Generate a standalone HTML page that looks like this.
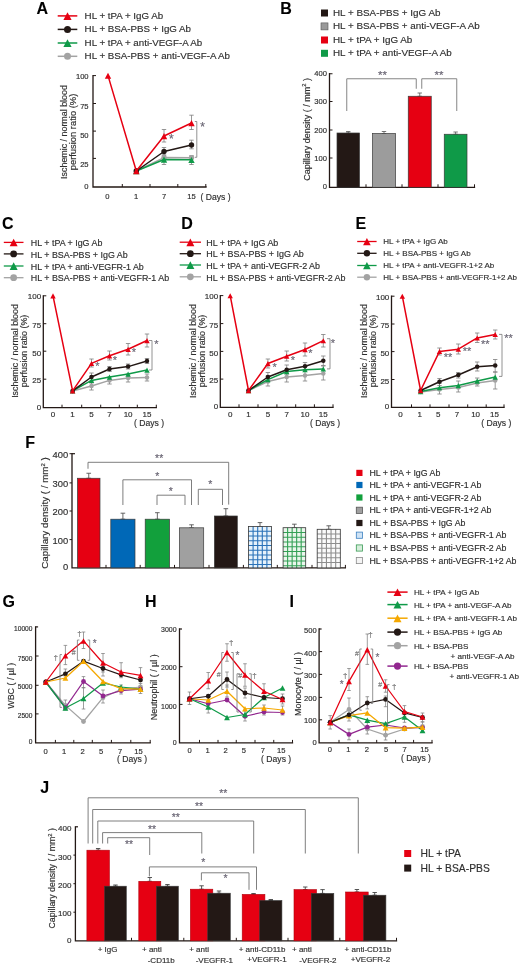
<!DOCTYPE html>
<html><head><meta charset="utf-8"><title>Figure</title>
<style>
html,body{margin:0;padding:0;background:#fff;}
body{width:520px;height:967px;overflow:hidden;}
svg{display:block;filter:blur(0.3px);font-family:"Liberation Sans", sans-serif;}
</style></head>
<body>
<svg width="520" height="967" viewBox="0 0 520 967">
<defs>
<pattern id="chkB" patternUnits="userSpaceOnUse" width="4.6" height="4.7" x="248.5" y="526.5"><rect width="4.6" height="4.7" fill="#e8f4fc"/><path d="M0 0H4.6M0 0V4.7" stroke="#1d6db5" stroke-width="1.3"/></pattern>
<pattern id="chkG" patternUnits="userSpaceOnUse" width="4.5" height="4.7" x="283.1" y="527.7"><rect width="4.5" height="4.7" fill="#eef8f0"/><path d="M0 0H4.5M0 0V4.7" stroke="#2a9a4a" stroke-width="1.3"/></pattern>
<pattern id="chkK" patternUnits="userSpaceOnUse" width="4.6" height="4.7" x="317.2" y="529.3"><rect width="4.6" height="4.7" fill="#fafafa"/><path d="M0 0H4.6M0 0V4.7" stroke="#8c8c8c" stroke-width="1.2"/></pattern>
</defs>
<rect width="520" height="967" fill="#fff"/>
<text x="36.5" y="14.2" font-size="16" text-anchor="start" fill="#000" stroke="#000" stroke-width="0.1" font-weight="bold">A</text>
<line x1="57.7" y1="15.9" x2="77.3" y2="15.9" stroke="#e60012" stroke-width="1.5"/>
<polygon points="63.4,19.95 71.6,19.95 67.5,12.16" fill="#e60012"/>
<text x="84.6" y="18.63" font-size="9.75" text-anchor="start" fill="#2f2f2f" stroke="#2f2f2f" stroke-width="0.16" font-weight="normal">HL + tPA + IgG Ab</text>
<line x1="57.7" y1="29.4" x2="77.3" y2="29.4" stroke="#231815" stroke-width="1.5"/>
<circle cx="67.5" cy="29.4" r="3.5" fill="#231815"/>
<text x="84.6" y="32.13" font-size="9.75" text-anchor="start" fill="#2f2f2f" stroke="#2f2f2f" stroke-width="0.16" font-weight="normal">HL + BSA-PBS + IgG Ab</text>
<line x1="57.7" y1="43" x2="77.3" y2="43" stroke="#0f9a48" stroke-width="1.5"/>
<polygon points="63.4,47.05 71.6,47.05 67.5,39.26" fill="#0f9a48"/>
<text x="84.6" y="45.73" font-size="9.75" text-anchor="start" fill="#2f2f2f" stroke="#2f2f2f" stroke-width="0.16" font-weight="normal">HL + tPA + anti-VEGF-A Ab</text>
<line x1="57.7" y1="56.3" x2="77.3" y2="56.3" stroke="#a3a3a3" stroke-width="1.5"/>
<circle cx="67.5" cy="56.3" r="3.5" fill="#a3a3a3"/>
<text x="84.6" y="59.03" font-size="9.75" text-anchor="start" fill="#2f2f2f" stroke="#2f2f2f" stroke-width="0.16" font-weight="normal">HL + BSA-PBS + anti-VEGF-A Ab</text>
<path d="M93 75.6V187H206" fill="none" stroke="#231815" stroke-width="1.3" stroke-linecap="square"/>
<line x1="93" y1="75.6" x2="96" y2="75.6" stroke="#231815" stroke-width="1"/>
<line x1="93" y1="103.5" x2="96" y2="103.5" stroke="#231815" stroke-width="1"/>
<line x1="93" y1="131.1" x2="96" y2="131.1" stroke="#231815" stroke-width="1"/>
<line x1="93" y1="158.4" x2="96" y2="158.4" stroke="#231815" stroke-width="1"/>
<line x1="122.3" y1="187" x2="122.3" y2="184" stroke="#231815" stroke-width="1"/>
<line x1="150" y1="187" x2="150" y2="184" stroke="#231815" stroke-width="1"/>
<line x1="177.8" y1="187" x2="177.8" y2="184" stroke="#231815" stroke-width="1"/>
<line x1="205.8" y1="187" x2="205.8" y2="184" stroke="#231815" stroke-width="1"/>
<text x="88.6" y="78.9" font-size="7.6" text-anchor="end" fill="#2f2f2f" stroke="#2f2f2f" stroke-width="0.16" font-weight="normal">100</text>
<text x="88.6" y="108.7" font-size="7.6" text-anchor="end" fill="#2f2f2f" stroke="#2f2f2f" stroke-width="0.16" font-weight="normal">75</text>
<text x="88.6" y="137.9" font-size="7.6" text-anchor="end" fill="#2f2f2f" stroke="#2f2f2f" stroke-width="0.16" font-weight="normal">50</text>
<text x="88.6" y="167.1" font-size="7.6" text-anchor="end" fill="#2f2f2f" stroke="#2f2f2f" stroke-width="0.16" font-weight="normal">25</text>
<text x="88.6" y="188.7" font-size="7.6" text-anchor="end" fill="#2f2f2f" stroke="#2f2f2f" stroke-width="0.16" font-weight="normal">0</text>
<text x="107.3" y="198.7" font-size="7.6" text-anchor="middle" fill="#2f2f2f" stroke="#2f2f2f" stroke-width="0.16" font-weight="normal">0</text>
<text x="136" y="198.7" font-size="7.6" text-anchor="middle" fill="#2f2f2f" stroke="#2f2f2f" stroke-width="0.16" font-weight="normal">1</text>
<text x="164" y="198.7" font-size="7.6" text-anchor="middle" fill="#2f2f2f" stroke="#2f2f2f" stroke-width="0.16" font-weight="normal">7</text>
<text x="191.5" y="198.7" font-size="7.6" text-anchor="middle" fill="#2f2f2f" stroke="#2f2f2f" stroke-width="0.16" font-weight="normal">15</text>
<text x="200.5" y="199.55" font-size="8.6" text-anchor="start" fill="#2f2f2f" stroke="#2f2f2f" stroke-width="0.16" font-weight="normal">( Days )</text>
<text x="67.3" y="132" font-size="8.9" text-anchor="middle" fill="#2f2f2f" stroke="#2f2f2f" stroke-width="0.16" font-weight="normal" transform="rotate(-90 67.3 132)">Ischemic / normal blood</text>
<text x="76.3" y="132" font-size="9.4" text-anchor="middle" fill="#2f2f2f" stroke="#2f2f2f" stroke-width="0.16" font-weight="normal" transform="rotate(-90 76.3 132)">perfusion ratio (%)</text>
<line x1="164" y1="129.5" x2="164" y2="142" stroke="#7d7d7d" stroke-width="0.8"/>
<line x1="161.8" y1="129.5" x2="166.2" y2="129.5" stroke="#7d7d7d" stroke-width="0.8"/>
<line x1="161.8" y1="142" x2="166.2" y2="142" stroke="#7d7d7d" stroke-width="0.8"/>
<line x1="191.5" y1="115.2" x2="191.5" y2="129.5" stroke="#7d7d7d" stroke-width="0.8"/>
<line x1="189.3" y1="115.2" x2="193.7" y2="115.2" stroke="#7d7d7d" stroke-width="0.8"/>
<line x1="189.3" y1="129.5" x2="193.7" y2="129.5" stroke="#7d7d7d" stroke-width="0.8"/>
<line x1="164" y1="147.5" x2="164" y2="154.8" stroke="#7d7d7d" stroke-width="0.8"/>
<line x1="161.8" y1="147.5" x2="166.2" y2="147.5" stroke="#7d7d7d" stroke-width="0.8"/>
<line x1="161.8" y1="154.8" x2="166.2" y2="154.8" stroke="#7d7d7d" stroke-width="0.8"/>
<line x1="191.5" y1="140.2" x2="191.5" y2="148.8" stroke="#7d7d7d" stroke-width="0.8"/>
<line x1="189.3" y1="140.2" x2="193.7" y2="140.2" stroke="#7d7d7d" stroke-width="0.8"/>
<line x1="189.3" y1="148.8" x2="193.7" y2="148.8" stroke="#7d7d7d" stroke-width="0.8"/>
<line x1="164" y1="155.6" x2="164" y2="164.5" stroke="#7d7d7d" stroke-width="0.8"/>
<line x1="161.8" y1="155.6" x2="166.2" y2="155.6" stroke="#7d7d7d" stroke-width="0.8"/>
<line x1="161.8" y1="164.5" x2="166.2" y2="164.5" stroke="#7d7d7d" stroke-width="0.8"/>
<line x1="191.5" y1="155.6" x2="191.5" y2="164.5" stroke="#7d7d7d" stroke-width="0.8"/>
<line x1="189.3" y1="155.6" x2="193.7" y2="155.6" stroke="#7d7d7d" stroke-width="0.8"/>
<line x1="189.3" y1="164.5" x2="193.7" y2="164.5" stroke="#7d7d7d" stroke-width="0.8"/>
<polyline points="136.3,171 164,157.6 191.5,157.8" fill="none" stroke="#a3a3a3" stroke-width="1.5" stroke-linejoin="round"/>
<circle cx="136.3" cy="171" r="2.69" fill="#a3a3a3"/>
<circle cx="164" cy="157.6" r="2.69" fill="#a3a3a3"/>
<circle cx="191.5" cy="157.8" r="2.69" fill="#a3a3a3"/>
<polyline points="136.3,171 164,159.5 191.5,159.8" fill="none" stroke="#0f9a48" stroke-width="1.5" stroke-linejoin="round"/>
<polygon points="133.1,174.16 139.5,174.16 136.3,168.08" fill="#0f9a48"/>
<polygon points="160.8,162.66 167.2,162.66 164,156.58" fill="#0f9a48"/>
<polygon points="188.3,162.96 194.7,162.96 191.5,156.88" fill="#0f9a48"/>
<polyline points="136.3,171 164,151.5 191.5,145" fill="none" stroke="#231815" stroke-width="1.5" stroke-linejoin="round"/>
<circle cx="136.3" cy="171" r="2.69" fill="#231815"/>
<circle cx="164" cy="151.5" r="2.69" fill="#231815"/>
<circle cx="191.5" cy="145" r="2.69" fill="#231815"/>
<polyline points="108,75.6 136.3,171 164,136 191.5,123" fill="none" stroke="#e60012" stroke-width="1.5" stroke-linejoin="round"/>
<polygon points="104.8,78.76 111.2,78.76 108,72.68" fill="#e60012"/>
<polygon points="133.1,174.16 139.5,174.16 136.3,168.08" fill="#e60012"/>
<polygon points="160.8,139.16 167.2,139.16 164,133.08" fill="#e60012"/>
<polygon points="188.3,126.16 194.7,126.16 191.5,120.08" fill="#e60012"/>
<path d="M194.8 121.5H196.8V157.3H194.8" fill="none" stroke="#777" stroke-width="0.8"/>
<text x="171.3" y="143.48" font-size="12" text-anchor="middle" fill="#6b6775" stroke="#6b6775" stroke-width="0.16" font-weight="normal">*</text>
<text x="202.5" y="130.58" font-size="12" text-anchor="middle" fill="#6b6775" stroke="#6b6775" stroke-width="0.16" font-weight="normal">*</text>
<text x="280.3" y="13.9" font-size="16" text-anchor="start" fill="#000" stroke="#000" stroke-width="0.1" font-weight="bold">B</text>
<rect x="321" y="9.5" width="7" height="7" fill="#231815" stroke="none" stroke-width="0.6"/>
<text x="333" y="15.8" font-size="9.85" text-anchor="start" fill="#2f2f2f" stroke="#2f2f2f" stroke-width="0.16" font-weight="normal">HL + BSA-PBS + IgG Ab</text>
<rect x="321" y="22.9" width="7" height="7" fill="#9a9a9a" stroke="#555" stroke-width="0.6"/>
<text x="333" y="29.2" font-size="9.85" text-anchor="start" fill="#2f2f2f" stroke="#2f2f2f" stroke-width="0.16" font-weight="normal">HL + BSA-PBS + anti-VEGF-A Ab</text>
<rect x="321" y="36.5" width="7" height="7" fill="#e60012" stroke="none" stroke-width="0.6"/>
<text x="333" y="42.8" font-size="9.85" text-anchor="start" fill="#2f2f2f" stroke="#2f2f2f" stroke-width="0.16" font-weight="normal">HL + tPA + IgG Ab</text>
<rect x="321" y="49.8" width="7" height="7" fill="#0f9a48" stroke="none" stroke-width="0.6"/>
<text x="333" y="56.1" font-size="9.85" text-anchor="start" fill="#2f2f2f" stroke="#2f2f2f" stroke-width="0.16" font-weight="normal">HL + tPA + anti-VEGF-A Ab</text>
<path d="M329.5 73.75V187.3H474.5" fill="none" stroke="#231815" stroke-width="1.3" stroke-linecap="square"/>
<line x1="329.5" y1="73.75" x2="332.5" y2="73.75" stroke="#231815" stroke-width="1"/>
<line x1="329.5" y1="101.5" x2="332.5" y2="101.5" stroke="#231815" stroke-width="1"/>
<line x1="329.5" y1="130" x2="332.5" y2="130" stroke="#231815" stroke-width="1"/>
<line x1="329.5" y1="158" x2="332.5" y2="158" stroke="#231815" stroke-width="1"/>
<line x1="366" y1="187.3" x2="366" y2="184.3" stroke="#231815" stroke-width="1"/>
<line x1="402" y1="187.3" x2="402" y2="184.3" stroke="#231815" stroke-width="1"/>
<line x1="438" y1="187.3" x2="438" y2="184.3" stroke="#231815" stroke-width="1"/>
<line x1="474.5" y1="187.3" x2="474.5" y2="184.3" stroke="#231815" stroke-width="1"/>
<text x="327" y="76.45" font-size="7.6" text-anchor="end" fill="#2f2f2f" stroke="#2f2f2f" stroke-width="0.16" font-weight="normal">400</text>
<text x="327" y="103.95" font-size="7.6" text-anchor="end" fill="#2f2f2f" stroke="#2f2f2f" stroke-width="0.16" font-weight="normal">300</text>
<text x="327" y="132.7" font-size="7.6" text-anchor="end" fill="#2f2f2f" stroke="#2f2f2f" stroke-width="0.16" font-weight="normal">200</text>
<text x="327" y="160.7" font-size="7.6" text-anchor="end" fill="#2f2f2f" stroke="#2f2f2f" stroke-width="0.16" font-weight="normal">100</text>
<text x="327" y="189" font-size="7.6" text-anchor="end" fill="#2f2f2f" stroke="#2f2f2f" stroke-width="0.16" font-weight="normal">0</text>
<text x="309.6" y="129.3" font-size="9" text-anchor="middle" fill="#2f2f2f" stroke="#2f2f2f" stroke-width="0.16" font-weight="normal" transform="rotate(-90 309.6 129.3)">Capillary density ( / mm<tspan font-size="5.8" dy="-3.2">2</tspan><tspan dy="3.2"> )</tspan></text>
<line x1="348.25" y1="131.5" x2="348.25" y2="133" stroke="#555" stroke-width="0.8"/>
<line x1="346.05" y1="131.5" x2="350.45" y2="131.5" stroke="#555" stroke-width="0.8"/>
<line x1="346.05" y1="133" x2="350.45" y2="133" stroke="#555" stroke-width="0.8"/>
<rect x="337" y="133" width="22.5" height="54.3" fill="#231815" stroke="#3a3a3a" stroke-width="0.7"/>
<line x1="384" y1="131.5" x2="384" y2="133.5" stroke="#555" stroke-width="0.8"/>
<line x1="381.8" y1="131.5" x2="386.2" y2="131.5" stroke="#555" stroke-width="0.8"/>
<line x1="381.8" y1="133.5" x2="386.2" y2="133.5" stroke="#555" stroke-width="0.8"/>
<rect x="372.5" y="133.5" width="23" height="53.8" fill="#9c9c9c" stroke="#3a3a3a" stroke-width="0.7"/>
<line x1="419.75" y1="93" x2="419.75" y2="96.25" stroke="#555" stroke-width="0.8"/>
<line x1="417.55" y1="93" x2="421.95" y2="93" stroke="#555" stroke-width="0.8"/>
<line x1="417.55" y1="96.25" x2="421.95" y2="96.25" stroke="#555" stroke-width="0.8"/>
<rect x="408.25" y="96.25" width="23" height="91.05" fill="#e60012" stroke="#3a3a3a" stroke-width="0.7"/>
<line x1="455.62" y1="132" x2="455.62" y2="134.25" stroke="#555" stroke-width="0.8"/>
<line x1="453.43" y1="132" x2="457.82" y2="132" stroke="#555" stroke-width="0.8"/>
<line x1="453.43" y1="134.25" x2="457.82" y2="134.25" stroke="#555" stroke-width="0.8"/>
<rect x="444.25" y="134.25" width="22.75" height="53.05" fill="#0f9a48" stroke="#3a3a3a" stroke-width="0.7"/>
<path d="M346.75 111V78.75H416.25V88.75" fill="none" stroke="#777" stroke-width="0.9"/>
<path d="M421.75 88.75V78.75H456.75V111" fill="none" stroke="#777" stroke-width="0.9"/>
<text x="382.5" y="78.92" font-size="11.5" text-anchor="middle" fill="#6b6775" stroke="#6b6775" stroke-width="0.16" font-weight="normal">**</text>
<text x="439" y="78.92" font-size="11.5" text-anchor="middle" fill="#6b6775" stroke="#6b6775" stroke-width="0.16" font-weight="normal">**</text>
<text x="2" y="228.8" font-size="16" text-anchor="start" fill="#000" stroke="#000" stroke-width="0.1" font-weight="bold">C</text>
<line x1="3.8" y1="242.4" x2="23.5" y2="242.4" stroke="#e60012" stroke-width="1.3"/>
<polygon points="9.65,246.35 17.65,246.35 13.65,238.75" fill="#e60012"/>
<text x="30.8" y="246.14" font-size="8.9" text-anchor="start" fill="#2f2f2f" stroke="#2f2f2f" stroke-width="0.16" font-weight="normal">HL + tPA + IgG Ab</text>
<line x1="3.8" y1="253.9" x2="23.5" y2="253.9" stroke="#231815" stroke-width="1.3"/>
<circle cx="13.65" cy="253.9" r="3.4" fill="#231815"/>
<text x="30.8" y="257.64" font-size="8.9" text-anchor="start" fill="#2f2f2f" stroke="#2f2f2f" stroke-width="0.16" font-weight="normal">HL + BSA-PBS + IgG Ab</text>
<line x1="3.8" y1="266" x2="23.5" y2="266" stroke="#0f9a48" stroke-width="1.3"/>
<polygon points="9.65,269.95 17.65,269.95 13.65,262.35" fill="#0f9a48"/>
<text x="30.8" y="269.74" font-size="8.9" text-anchor="start" fill="#2f2f2f" stroke="#2f2f2f" stroke-width="0.16" font-weight="normal">HL + tPA + anti-VEGFR-1 Ab</text>
<line x1="3.8" y1="277.7" x2="23.5" y2="277.7" stroke="#a3a3a3" stroke-width="1.3"/>
<circle cx="13.65" cy="277.7" r="3.4" fill="#a3a3a3"/>
<text x="30.8" y="281.44" font-size="8.9" text-anchor="start" fill="#2f2f2f" stroke="#2f2f2f" stroke-width="0.16" font-weight="normal">HL + BSA-PBS + anti-VEGFR-1 Ab</text>
<path d="M43.3 295.8V407.7H156.3" fill="none" stroke="#231815" stroke-width="1.3" stroke-linecap="square"/>
<line x1="43.3" y1="295.8" x2="46.3" y2="295.8" stroke="#231815" stroke-width="1"/>
<line x1="43.3" y1="323.7" x2="46.3" y2="323.7" stroke="#231815" stroke-width="1"/>
<line x1="43.3" y1="351.2" x2="46.3" y2="351.2" stroke="#231815" stroke-width="1"/>
<line x1="43.3" y1="379.2" x2="46.3" y2="379.2" stroke="#231815" stroke-width="1"/>
<line x1="62" y1="407.7" x2="62" y2="404.7" stroke="#231815" stroke-width="1"/>
<line x1="81.7" y1="407.7" x2="81.7" y2="404.7" stroke="#231815" stroke-width="1"/>
<line x1="100.7" y1="407.7" x2="100.7" y2="404.7" stroke="#231815" stroke-width="1"/>
<line x1="119.3" y1="407.7" x2="119.3" y2="404.7" stroke="#231815" stroke-width="1"/>
<line x1="137.3" y1="407.7" x2="137.3" y2="404.7" stroke="#231815" stroke-width="1"/>
<line x1="156.3" y1="407.7" x2="156.3" y2="404.7" stroke="#231815" stroke-width="1"/>
<text x="41.1" y="299.24" font-size="8" text-anchor="end" fill="#2f2f2f" stroke="#2f2f2f" stroke-width="0.16" font-weight="normal">100</text>
<text x="41.1" y="327.94" font-size="8" text-anchor="end" fill="#2f2f2f" stroke="#2f2f2f" stroke-width="0.16" font-weight="normal">75</text>
<text x="41.1" y="355.84" font-size="8" text-anchor="end" fill="#2f2f2f" stroke="#2f2f2f" stroke-width="0.16" font-weight="normal">50</text>
<text x="41.1" y="383.34" font-size="8" text-anchor="end" fill="#2f2f2f" stroke="#2f2f2f" stroke-width="0.16" font-weight="normal">25</text>
<text x="41.1" y="409.64" font-size="8" text-anchor="end" fill="#2f2f2f" stroke="#2f2f2f" stroke-width="0.16" font-weight="normal">0</text>
<text x="53" y="417.34" font-size="8" text-anchor="middle" fill="#2f2f2f" stroke="#2f2f2f" stroke-width="0.16" font-weight="normal">0</text>
<text x="72.6" y="417.34" font-size="8" text-anchor="middle" fill="#2f2f2f" stroke="#2f2f2f" stroke-width="0.16" font-weight="normal">1</text>
<text x="91.5" y="417.34" font-size="8" text-anchor="middle" fill="#2f2f2f" stroke="#2f2f2f" stroke-width="0.16" font-weight="normal">5</text>
<text x="109.5" y="417.34" font-size="8" text-anchor="middle" fill="#2f2f2f" stroke="#2f2f2f" stroke-width="0.16" font-weight="normal">7</text>
<text x="128.1" y="417.34" font-size="8" text-anchor="middle" fill="#2f2f2f" stroke="#2f2f2f" stroke-width="0.16" font-weight="normal">10</text>
<text x="147" y="417.34" font-size="8" text-anchor="middle" fill="#2f2f2f" stroke="#2f2f2f" stroke-width="0.16" font-weight="normal">15</text>
<text x="134" y="426.45" font-size="8.6" text-anchor="start" fill="#2f2f2f" stroke="#2f2f2f" stroke-width="0.16" font-weight="normal">( Days )</text>
<text x="18.3" y="351" font-size="8.9" text-anchor="middle" fill="#2f2f2f" stroke="#2f2f2f" stroke-width="0.16" font-weight="normal" transform="rotate(-90 18.3 351)">Ischemic / normal blood</text>
<text x="27.3" y="351" font-size="8.9" text-anchor="middle" fill="#2f2f2f" stroke="#2f2f2f" stroke-width="0.16" font-weight="normal" transform="rotate(-90 27.3 351)">perfusion ratio (%)</text>
<line x1="91.5" y1="359" x2="91.5" y2="367" stroke="#7d7d7d" stroke-width="0.8"/>
<line x1="89.3" y1="359" x2="93.7" y2="359" stroke="#7d7d7d" stroke-width="0.8"/>
<line x1="89.3" y1="367" x2="93.7" y2="367" stroke="#7d7d7d" stroke-width="0.8"/>
<line x1="109.5" y1="351" x2="109.5" y2="360" stroke="#7d7d7d" stroke-width="0.8"/>
<line x1="107.3" y1="351" x2="111.7" y2="351" stroke="#7d7d7d" stroke-width="0.8"/>
<line x1="107.3" y1="360" x2="111.7" y2="360" stroke="#7d7d7d" stroke-width="0.8"/>
<line x1="128.1" y1="343.5" x2="128.1" y2="355" stroke="#7d7d7d" stroke-width="0.8"/>
<line x1="125.9" y1="343.5" x2="130.3" y2="343.5" stroke="#7d7d7d" stroke-width="0.8"/>
<line x1="125.9" y1="355" x2="130.3" y2="355" stroke="#7d7d7d" stroke-width="0.8"/>
<line x1="147" y1="334" x2="147" y2="347" stroke="#7d7d7d" stroke-width="0.8"/>
<line x1="144.8" y1="334" x2="149.2" y2="334" stroke="#7d7d7d" stroke-width="0.8"/>
<line x1="144.8" y1="347" x2="149.2" y2="347" stroke="#7d7d7d" stroke-width="0.8"/>
<line x1="91.5" y1="373" x2="91.5" y2="381" stroke="#7d7d7d" stroke-width="0.8"/>
<line x1="89.3" y1="373" x2="93.7" y2="373" stroke="#7d7d7d" stroke-width="0.8"/>
<line x1="89.3" y1="381" x2="93.7" y2="381" stroke="#7d7d7d" stroke-width="0.8"/>
<line x1="109.5" y1="366.5" x2="109.5" y2="371.5" stroke="#7d7d7d" stroke-width="0.8"/>
<line x1="107.3" y1="366.5" x2="111.7" y2="366.5" stroke="#7d7d7d" stroke-width="0.8"/>
<line x1="107.3" y1="371.5" x2="111.7" y2="371.5" stroke="#7d7d7d" stroke-width="0.8"/>
<line x1="128.1" y1="364" x2="128.1" y2="369" stroke="#7d7d7d" stroke-width="0.8"/>
<line x1="125.9" y1="364" x2="130.3" y2="364" stroke="#7d7d7d" stroke-width="0.8"/>
<line x1="125.9" y1="369" x2="130.3" y2="369" stroke="#7d7d7d" stroke-width="0.8"/>
<line x1="147" y1="358.5" x2="147" y2="363.5" stroke="#7d7d7d" stroke-width="0.8"/>
<line x1="144.8" y1="358.5" x2="149.2" y2="358.5" stroke="#7d7d7d" stroke-width="0.8"/>
<line x1="144.8" y1="363.5" x2="149.2" y2="363.5" stroke="#7d7d7d" stroke-width="0.8"/>
<line x1="91.5" y1="383" x2="91.5" y2="390" stroke="#7d7d7d" stroke-width="0.8"/>
<line x1="89.3" y1="383" x2="93.7" y2="383" stroke="#7d7d7d" stroke-width="0.8"/>
<line x1="89.3" y1="390" x2="93.7" y2="390" stroke="#7d7d7d" stroke-width="0.8"/>
<line x1="109.5" y1="377" x2="109.5" y2="384" stroke="#7d7d7d" stroke-width="0.8"/>
<line x1="107.3" y1="377" x2="111.7" y2="377" stroke="#7d7d7d" stroke-width="0.8"/>
<line x1="107.3" y1="384" x2="111.7" y2="384" stroke="#7d7d7d" stroke-width="0.8"/>
<line x1="128.1" y1="374" x2="128.1" y2="382" stroke="#7d7d7d" stroke-width="0.8"/>
<line x1="125.9" y1="374" x2="130.3" y2="374" stroke="#7d7d7d" stroke-width="0.8"/>
<line x1="125.9" y1="382" x2="130.3" y2="382" stroke="#7d7d7d" stroke-width="0.8"/>
<line x1="147" y1="374" x2="147" y2="381" stroke="#7d7d7d" stroke-width="0.8"/>
<line x1="144.8" y1="374" x2="149.2" y2="374" stroke="#7d7d7d" stroke-width="0.8"/>
<line x1="144.8" y1="381" x2="149.2" y2="381" stroke="#7d7d7d" stroke-width="0.8"/>
<polyline points="72.6,390.9 91.5,386 109.5,380.4 128.1,378 147,377.4" fill="none" stroke="#a3a3a3" stroke-width="1.5" stroke-linejoin="round"/>
<circle cx="72.6" cy="390.9" r="2.27" fill="#a3a3a3"/>
<circle cx="91.5" cy="386" r="2.27" fill="#a3a3a3"/>
<circle cx="109.5" cy="380.4" r="2.27" fill="#a3a3a3"/>
<circle cx="128.1" cy="378" r="2.27" fill="#a3a3a3"/>
<circle cx="147" cy="377.4" r="2.27" fill="#a3a3a3"/>
<polyline points="72.6,390.9 91.5,380.4 109.5,377 128.1,374 147,370" fill="none" stroke="#0f9a48" stroke-width="1.5" stroke-linejoin="round"/>
<polygon points="69.9,393.57 75.3,393.57 72.6,388.44" fill="#0f9a48"/>
<polygon points="88.8,383.07 94.2,383.07 91.5,377.94" fill="#0f9a48"/>
<polygon points="106.8,379.67 112.2,379.67 109.5,374.54" fill="#0f9a48"/>
<polygon points="125.4,376.67 130.8,376.67 128.1,371.54" fill="#0f9a48"/>
<polygon points="144.3,372.67 149.7,372.67 147,367.54" fill="#0f9a48"/>
<polyline points="72.6,390.9 91.5,377 109.5,369 128.1,366.6 147,361" fill="none" stroke="#231815" stroke-width="1.5" stroke-linejoin="round"/>
<circle cx="72.6" cy="390.9" r="2.27" fill="#231815"/>
<circle cx="91.5" cy="377" r="2.27" fill="#231815"/>
<circle cx="109.5" cy="369" r="2.27" fill="#231815"/>
<circle cx="128.1" cy="366.6" r="2.27" fill="#231815"/>
<circle cx="147" cy="361" r="2.27" fill="#231815"/>
<polyline points="53,295.8 72.6,390.9 91.5,363.4 109.5,355.8 128.1,349.3 147,340.5" fill="none" stroke="#e60012" stroke-width="1.5" stroke-linejoin="round"/>
<polygon points="50.3,298.47 55.7,298.47 53,293.34" fill="#e60012"/>
<polygon points="69.9,393.57 75.3,393.57 72.6,388.44" fill="#e60012"/>
<polygon points="88.8,366.07 94.2,366.07 91.5,360.94" fill="#e60012"/>
<polygon points="106.8,358.47 112.2,358.47 109.5,353.34" fill="#e60012"/>
<polygon points="125.4,351.97 130.8,351.97 128.1,346.84" fill="#e60012"/>
<polygon points="144.3,343.17 149.7,343.17 147,338.04" fill="#e60012"/>
<path d="M149 340.5H152V370H149" fill="none" stroke="#777" stroke-width="0.8"/>
<text x="97.4" y="369.97" font-size="11" text-anchor="middle" fill="#6b6775" stroke="#6b6775" stroke-width="0.16" font-weight="normal">*</text>
<text x="115" y="364.17" font-size="11" text-anchor="middle" fill="#6b6775" stroke="#6b6775" stroke-width="0.16" font-weight="normal">*</text>
<text x="134" y="355.97" font-size="11" text-anchor="middle" fill="#6b6775" stroke="#6b6775" stroke-width="0.16" font-weight="normal">*</text>
<text x="156.3" y="347.67" font-size="11" text-anchor="middle" fill="#6b6775" stroke="#6b6775" stroke-width="0.16" font-weight="normal">*</text>
<text x="181.2" y="228.7" font-size="16" text-anchor="start" fill="#000" stroke="#000" stroke-width="0.1" font-weight="bold">D</text>
<line x1="179.7" y1="242.2" x2="201" y2="242.2" stroke="#e60012" stroke-width="1.3"/>
<polygon points="186.35,246.15 194.35,246.15 190.35,238.55" fill="#e60012"/>
<text x="206.3" y="245.96" font-size="8.95" text-anchor="start" fill="#2f2f2f" stroke="#2f2f2f" stroke-width="0.16" font-weight="normal">HL + tPA + IgG Ab</text>
<line x1="179.7" y1="253.7" x2="201" y2="253.7" stroke="#231815" stroke-width="1.3"/>
<circle cx="190.35" cy="253.7" r="3.4" fill="#231815"/>
<text x="206.3" y="257.46" font-size="8.95" text-anchor="start" fill="#2f2f2f" stroke="#2f2f2f" stroke-width="0.16" font-weight="normal">HL + BSA-PBS + IgG Ab</text>
<line x1="179.7" y1="265" x2="201" y2="265" stroke="#0f9a48" stroke-width="1.3"/>
<polygon points="186.35,268.95 194.35,268.95 190.35,261.35" fill="#0f9a48"/>
<text x="206.3" y="268.76" font-size="8.95" text-anchor="start" fill="#2f2f2f" stroke="#2f2f2f" stroke-width="0.16" font-weight="normal">HL + tPA + anti-VEGFR-2 Ab</text>
<line x1="179.7" y1="276.8" x2="201" y2="276.8" stroke="#a3a3a3" stroke-width="1.3"/>
<circle cx="190.35" cy="276.8" r="3.4" fill="#a3a3a3"/>
<text x="206.3" y="280.56" font-size="8.95" text-anchor="start" fill="#2f2f2f" stroke="#2f2f2f" stroke-width="0.16" font-weight="normal">HL + BSA-PBS + anti-VEGFR-2 Ab</text>
<path d="M220.3 295.6V407.3H333" fill="none" stroke="#231815" stroke-width="1.3" stroke-linecap="square"/>
<line x1="220.3" y1="295.6" x2="223.3" y2="295.6" stroke="#231815" stroke-width="1"/>
<line x1="220.3" y1="323.6" x2="223.3" y2="323.6" stroke="#231815" stroke-width="1"/>
<line x1="220.3" y1="351.4" x2="223.3" y2="351.4" stroke="#231815" stroke-width="1"/>
<line x1="220.3" y1="379.1" x2="223.3" y2="379.1" stroke="#231815" stroke-width="1"/>
<line x1="239" y1="407.3" x2="239" y2="404.3" stroke="#231815" stroke-width="1"/>
<line x1="258" y1="407.3" x2="258" y2="404.3" stroke="#231815" stroke-width="1"/>
<line x1="276.9" y1="407.3" x2="276.9" y2="404.3" stroke="#231815" stroke-width="1"/>
<line x1="295.7" y1="407.3" x2="295.7" y2="404.3" stroke="#231815" stroke-width="1"/>
<line x1="314.4" y1="407.3" x2="314.4" y2="404.3" stroke="#231815" stroke-width="1"/>
<line x1="333" y1="407.3" x2="333" y2="404.3" stroke="#231815" stroke-width="1"/>
<text x="218.1" y="299.44" font-size="8" text-anchor="end" fill="#2f2f2f" stroke="#2f2f2f" stroke-width="0.16" font-weight="normal">100</text>
<text x="218.1" y="327.84" font-size="8" text-anchor="end" fill="#2f2f2f" stroke="#2f2f2f" stroke-width="0.16" font-weight="normal">75</text>
<text x="218.1" y="356.04" font-size="8" text-anchor="end" fill="#2f2f2f" stroke="#2f2f2f" stroke-width="0.16" font-weight="normal">50</text>
<text x="218.1" y="383.24" font-size="8" text-anchor="end" fill="#2f2f2f" stroke="#2f2f2f" stroke-width="0.16" font-weight="normal">25</text>
<text x="218.1" y="409.34" font-size="8" text-anchor="end" fill="#2f2f2f" stroke="#2f2f2f" stroke-width="0.16" font-weight="normal">0</text>
<text x="230.2" y="416.64" font-size="8" text-anchor="middle" fill="#2f2f2f" stroke="#2f2f2f" stroke-width="0.16" font-weight="normal">0</text>
<text x="248.5" y="416.64" font-size="8" text-anchor="middle" fill="#2f2f2f" stroke="#2f2f2f" stroke-width="0.16" font-weight="normal">1</text>
<text x="267.9" y="416.64" font-size="8" text-anchor="middle" fill="#2f2f2f" stroke="#2f2f2f" stroke-width="0.16" font-weight="normal">5</text>
<text x="286.7" y="416.64" font-size="8" text-anchor="middle" fill="#2f2f2f" stroke="#2f2f2f" stroke-width="0.16" font-weight="normal">7</text>
<text x="305" y="416.64" font-size="8" text-anchor="middle" fill="#2f2f2f" stroke="#2f2f2f" stroke-width="0.16" font-weight="normal">10</text>
<text x="323.3" y="416.64" font-size="8" text-anchor="middle" fill="#2f2f2f" stroke="#2f2f2f" stroke-width="0.16" font-weight="normal">15</text>
<text x="310" y="425.75" font-size="8.6" text-anchor="start" fill="#2f2f2f" stroke="#2f2f2f" stroke-width="0.16" font-weight="normal">( Days )</text>
<text x="195.5" y="351" font-size="8.9" text-anchor="middle" fill="#2f2f2f" stroke="#2f2f2f" stroke-width="0.16" font-weight="normal" transform="rotate(-90 195.5 351)">Ischemic / normal blood</text>
<text x="204.5" y="351" font-size="8.9" text-anchor="middle" fill="#2f2f2f" stroke="#2f2f2f" stroke-width="0.16" font-weight="normal" transform="rotate(-90 204.5 351)">perfusion ratio (%)</text>
<line x1="267.9" y1="359" x2="267.9" y2="368" stroke="#7d7d7d" stroke-width="0.8"/>
<line x1="265.7" y1="359" x2="270.1" y2="359" stroke="#7d7d7d" stroke-width="0.8"/>
<line x1="265.7" y1="368" x2="270.1" y2="368" stroke="#7d7d7d" stroke-width="0.8"/>
<line x1="286.7" y1="351" x2="286.7" y2="361" stroke="#7d7d7d" stroke-width="0.8"/>
<line x1="284.5" y1="351" x2="288.9" y2="351" stroke="#7d7d7d" stroke-width="0.8"/>
<line x1="284.5" y1="361" x2="288.9" y2="361" stroke="#7d7d7d" stroke-width="0.8"/>
<line x1="305" y1="343" x2="305" y2="356" stroke="#7d7d7d" stroke-width="0.8"/>
<line x1="302.8" y1="343" x2="307.2" y2="343" stroke="#7d7d7d" stroke-width="0.8"/>
<line x1="302.8" y1="356" x2="307.2" y2="356" stroke="#7d7d7d" stroke-width="0.8"/>
<line x1="323.3" y1="334.5" x2="323.3" y2="347" stroke="#7d7d7d" stroke-width="0.8"/>
<line x1="321.1" y1="334.5" x2="325.5" y2="334.5" stroke="#7d7d7d" stroke-width="0.8"/>
<line x1="321.1" y1="347" x2="325.5" y2="347" stroke="#7d7d7d" stroke-width="0.8"/>
<line x1="267.9" y1="372.5" x2="267.9" y2="381" stroke="#7d7d7d" stroke-width="0.8"/>
<line x1="265.7" y1="372.5" x2="270.1" y2="372.5" stroke="#7d7d7d" stroke-width="0.8"/>
<line x1="265.7" y1="381" x2="270.1" y2="381" stroke="#7d7d7d" stroke-width="0.8"/>
<line x1="286.7" y1="365" x2="286.7" y2="374" stroke="#7d7d7d" stroke-width="0.8"/>
<line x1="284.5" y1="365" x2="288.9" y2="365" stroke="#7d7d7d" stroke-width="0.8"/>
<line x1="284.5" y1="374" x2="288.9" y2="374" stroke="#7d7d7d" stroke-width="0.8"/>
<line x1="305" y1="362.5" x2="305" y2="370" stroke="#7d7d7d" stroke-width="0.8"/>
<line x1="302.8" y1="362.5" x2="307.2" y2="362.5" stroke="#7d7d7d" stroke-width="0.8"/>
<line x1="302.8" y1="370" x2="307.2" y2="370" stroke="#7d7d7d" stroke-width="0.8"/>
<line x1="323.3" y1="356" x2="323.3" y2="365.5" stroke="#7d7d7d" stroke-width="0.8"/>
<line x1="321.1" y1="356" x2="325.5" y2="356" stroke="#7d7d7d" stroke-width="0.8"/>
<line x1="321.1" y1="365.5" x2="325.5" y2="365.5" stroke="#7d7d7d" stroke-width="0.8"/>
<line x1="267.9" y1="376" x2="267.9" y2="386" stroke="#7d7d7d" stroke-width="0.8"/>
<line x1="265.7" y1="376" x2="270.1" y2="376" stroke="#7d7d7d" stroke-width="0.8"/>
<line x1="265.7" y1="386" x2="270.1" y2="386" stroke="#7d7d7d" stroke-width="0.8"/>
<line x1="286.7" y1="372" x2="286.7" y2="382" stroke="#7d7d7d" stroke-width="0.8"/>
<line x1="284.5" y1="372" x2="288.9" y2="372" stroke="#7d7d7d" stroke-width="0.8"/>
<line x1="284.5" y1="382" x2="288.9" y2="382" stroke="#7d7d7d" stroke-width="0.8"/>
<line x1="305" y1="370" x2="305" y2="381" stroke="#7d7d7d" stroke-width="0.8"/>
<line x1="302.8" y1="370" x2="307.2" y2="370" stroke="#7d7d7d" stroke-width="0.8"/>
<line x1="302.8" y1="381" x2="307.2" y2="381" stroke="#7d7d7d" stroke-width="0.8"/>
<line x1="323.3" y1="366" x2="323.3" y2="380" stroke="#7d7d7d" stroke-width="0.8"/>
<line x1="321.1" y1="366" x2="325.5" y2="366" stroke="#7d7d7d" stroke-width="0.8"/>
<line x1="321.1" y1="380" x2="325.5" y2="380" stroke="#7d7d7d" stroke-width="0.8"/>
<polyline points="248.5,390.5 267.9,381.5 286.7,377 305,375.5 323.3,373.5" fill="none" stroke="#a3a3a3" stroke-width="1.5" stroke-linejoin="round"/>
<circle cx="248.5" cy="390.5" r="2.27" fill="#a3a3a3"/>
<circle cx="267.9" cy="381.5" r="2.27" fill="#a3a3a3"/>
<circle cx="286.7" cy="377" r="2.27" fill="#a3a3a3"/>
<circle cx="305" cy="375.5" r="2.27" fill="#a3a3a3"/>
<circle cx="323.3" cy="373.5" r="2.27" fill="#a3a3a3"/>
<polyline points="248.5,390.5 267.9,379.6 286.7,371.5 305,369.7 323.3,368.9" fill="none" stroke="#0f9a48" stroke-width="1.5" stroke-linejoin="round"/>
<polygon points="245.8,393.17 251.2,393.17 248.5,388.04" fill="#0f9a48"/>
<polygon points="265.2,382.27 270.6,382.27 267.9,377.14" fill="#0f9a48"/>
<polygon points="284,374.17 289.4,374.17 286.7,369.04" fill="#0f9a48"/>
<polygon points="302.3,372.37 307.7,372.37 305,367.24" fill="#0f9a48"/>
<polygon points="320.6,371.57 326,371.57 323.3,366.44" fill="#0f9a48"/>
<polyline points="248.5,390.5 267.9,377 286.7,369.7 305,366.2 323.3,360.8" fill="none" stroke="#231815" stroke-width="1.5" stroke-linejoin="round"/>
<circle cx="248.5" cy="390.5" r="2.27" fill="#231815"/>
<circle cx="267.9" cy="377" r="2.27" fill="#231815"/>
<circle cx="286.7" cy="369.7" r="2.27" fill="#231815"/>
<circle cx="305" cy="366.2" r="2.27" fill="#231815"/>
<circle cx="323.3" cy="360.8" r="2.27" fill="#231815"/>
<polyline points="230.2,295.6 248.5,390.5 267.9,363.5 286.7,356.2 305,349.5 323.3,340.6" fill="none" stroke="#e60012" stroke-width="1.5" stroke-linejoin="round"/>
<polygon points="227.5,298.27 232.9,298.27 230.2,293.14" fill="#e60012"/>
<polygon points="245.8,393.17 251.2,393.17 248.5,388.04" fill="#e60012"/>
<polygon points="265.2,366.17 270.6,366.17 267.9,361.04" fill="#e60012"/>
<polygon points="284,358.87 289.4,358.87 286.7,353.74" fill="#e60012"/>
<polygon points="302.3,352.17 307.7,352.17 305,347.04" fill="#e60012"/>
<polygon points="320.6,343.27 326,343.27 323.3,338.14" fill="#e60012"/>
<path d="M327 338.7H330V368.9H327" fill="none" stroke="#777" stroke-width="0.8"/>
<text x="274.6" y="371.27" font-size="11" text-anchor="middle" fill="#6b6775" stroke="#6b6775" stroke-width="0.16" font-weight="normal">*</text>
<text x="292.9" y="364.27" font-size="11" text-anchor="middle" fill="#6b6775" stroke="#6b6775" stroke-width="0.16" font-weight="normal">*</text>
<text x="310.4" y="357.06" font-size="11" text-anchor="middle" fill="#6b6775" stroke="#6b6775" stroke-width="0.16" font-weight="normal">*</text>
<text x="332.9" y="347.06" font-size="11" text-anchor="middle" fill="#6b6775" stroke="#6b6775" stroke-width="0.16" font-weight="normal">*</text>
<text x="355.4" y="228.7" font-size="16" text-anchor="start" fill="#000" stroke="#000" stroke-width="0.1" font-weight="bold">E</text>
<line x1="357.2" y1="241.5" x2="376.6" y2="241.5" stroke="#e60012" stroke-width="1.3"/>
<polygon points="363.1,245.25 370.7,245.25 366.9,238.03" fill="#e60012"/>
<text x="383.3" y="243.9" font-size="8" text-anchor="start" fill="#2f2f2f" stroke="#2f2f2f" stroke-width="0.16" font-weight="normal">HL + tPA + IgG Ab</text>
<line x1="357.2" y1="253.3" x2="376.6" y2="253.3" stroke="#231815" stroke-width="1.3"/>
<circle cx="366.9" cy="253.3" r="3.2" fill="#231815"/>
<text x="383.3" y="255.7" font-size="8" text-anchor="start" fill="#2f2f2f" stroke="#2f2f2f" stroke-width="0.16" font-weight="normal">HL + BSA-PBS + IgG Ab</text>
<line x1="357.2" y1="265.5" x2="376.6" y2="265.5" stroke="#0f9a48" stroke-width="1.3"/>
<polygon points="363.1,269.25 370.7,269.25 366.9,262.03" fill="#0f9a48"/>
<text x="383.3" y="267.9" font-size="8" text-anchor="start" fill="#2f2f2f" stroke="#2f2f2f" stroke-width="0.16" font-weight="normal">HL + tPA + anti-VEGFR-1+2 Ab</text>
<line x1="357.2" y1="277.2" x2="376.6" y2="277.2" stroke="#a3a3a3" stroke-width="1.3"/>
<circle cx="366.9" cy="277.2" r="3.2" fill="#a3a3a3"/>
<text x="383.3" y="279.6" font-size="8" text-anchor="start" fill="#2f2f2f" stroke="#2f2f2f" stroke-width="0.16" font-weight="normal">HL + BSA-PBS + anti-VEGFR-1+2 Ab</text>
<path d="M391.5 296.2V407.4H504" fill="none" stroke="#231815" stroke-width="1.3" stroke-linecap="square"/>
<line x1="391.5" y1="296.2" x2="394.5" y2="296.2" stroke="#231815" stroke-width="1"/>
<line x1="391.5" y1="324" x2="394.5" y2="324" stroke="#231815" stroke-width="1"/>
<line x1="391.5" y1="351.6" x2="394.5" y2="351.6" stroke="#231815" stroke-width="1"/>
<line x1="391.5" y1="379.5" x2="394.5" y2="379.5" stroke="#231815" stroke-width="1"/>
<line x1="411.5" y1="407.4" x2="411.5" y2="404.4" stroke="#231815" stroke-width="1"/>
<line x1="430" y1="407.4" x2="430" y2="404.4" stroke="#231815" stroke-width="1"/>
<line x1="449" y1="407.4" x2="449" y2="404.4" stroke="#231815" stroke-width="1"/>
<line x1="467.7" y1="407.4" x2="467.7" y2="404.4" stroke="#231815" stroke-width="1"/>
<line x1="486.2" y1="407.4" x2="486.2" y2="404.4" stroke="#231815" stroke-width="1"/>
<line x1="504" y1="407.4" x2="504" y2="404.4" stroke="#231815" stroke-width="1"/>
<text x="389.3" y="299.64" font-size="8" text-anchor="end" fill="#2f2f2f" stroke="#2f2f2f" stroke-width="0.16" font-weight="normal">100</text>
<text x="389.3" y="328.04" font-size="8" text-anchor="end" fill="#2f2f2f" stroke="#2f2f2f" stroke-width="0.16" font-weight="normal">75</text>
<text x="389.3" y="356.24" font-size="8" text-anchor="end" fill="#2f2f2f" stroke="#2f2f2f" stroke-width="0.16" font-weight="normal">50</text>
<text x="389.3" y="383.64" font-size="8" text-anchor="end" fill="#2f2f2f" stroke="#2f2f2f" stroke-width="0.16" font-weight="normal">25</text>
<text x="389.3" y="409.44" font-size="8" text-anchor="end" fill="#2f2f2f" stroke="#2f2f2f" stroke-width="0.16" font-weight="normal">0</text>
<text x="400.5" y="416.64" font-size="8" text-anchor="middle" fill="#2f2f2f" stroke="#2f2f2f" stroke-width="0.16" font-weight="normal">0</text>
<text x="419.7" y="416.64" font-size="8" text-anchor="middle" fill="#2f2f2f" stroke="#2f2f2f" stroke-width="0.16" font-weight="normal">1</text>
<text x="438.2" y="416.64" font-size="8" text-anchor="middle" fill="#2f2f2f" stroke="#2f2f2f" stroke-width="0.16" font-weight="normal">5</text>
<text x="456.9" y="416.64" font-size="8" text-anchor="middle" fill="#2f2f2f" stroke="#2f2f2f" stroke-width="0.16" font-weight="normal">7</text>
<text x="475.6" y="416.64" font-size="8" text-anchor="middle" fill="#2f2f2f" stroke="#2f2f2f" stroke-width="0.16" font-weight="normal">10</text>
<text x="494.4" y="416.64" font-size="8" text-anchor="middle" fill="#2f2f2f" stroke="#2f2f2f" stroke-width="0.16" font-weight="normal">15</text>
<text x="481.2" y="425.75" font-size="8.6" text-anchor="start" fill="#2f2f2f" stroke="#2f2f2f" stroke-width="0.16" font-weight="normal">( Days )</text>
<text x="366.5" y="351" font-size="8.9" text-anchor="middle" fill="#2f2f2f" stroke="#2f2f2f" stroke-width="0.16" font-weight="normal" transform="rotate(-90 366.5 351)">Ischemic / normal blood</text>
<text x="375.5" y="351" font-size="8.9" text-anchor="middle" fill="#2f2f2f" stroke="#2f2f2f" stroke-width="0.16" font-weight="normal" transform="rotate(-90 375.5 351)">perfusion ratio (%)</text>
<line x1="439.5" y1="348" x2="439.5" y2="355" stroke="#7d7d7d" stroke-width="0.8"/>
<line x1="437.3" y1="348" x2="441.7" y2="348" stroke="#7d7d7d" stroke-width="0.8"/>
<line x1="437.3" y1="355" x2="441.7" y2="355" stroke="#7d7d7d" stroke-width="0.8"/>
<line x1="458.3" y1="344" x2="458.3" y2="354" stroke="#7d7d7d" stroke-width="0.8"/>
<line x1="456.1" y1="344" x2="460.5" y2="344" stroke="#7d7d7d" stroke-width="0.8"/>
<line x1="456.1" y1="354" x2="460.5" y2="354" stroke="#7d7d7d" stroke-width="0.8"/>
<line x1="477.2" y1="333" x2="477.2" y2="342.5" stroke="#7d7d7d" stroke-width="0.8"/>
<line x1="475" y1="333" x2="479.4" y2="333" stroke="#7d7d7d" stroke-width="0.8"/>
<line x1="475" y1="342.5" x2="479.4" y2="342.5" stroke="#7d7d7d" stroke-width="0.8"/>
<line x1="495.2" y1="330" x2="495.2" y2="339" stroke="#7d7d7d" stroke-width="0.8"/>
<line x1="493" y1="330" x2="497.4" y2="330" stroke="#7d7d7d" stroke-width="0.8"/>
<line x1="493" y1="339" x2="497.4" y2="339" stroke="#7d7d7d" stroke-width="0.8"/>
<line x1="439.5" y1="378.5" x2="439.5" y2="385.5" stroke="#7d7d7d" stroke-width="0.8"/>
<line x1="437.3" y1="378.5" x2="441.7" y2="378.5" stroke="#7d7d7d" stroke-width="0.8"/>
<line x1="437.3" y1="385.5" x2="441.7" y2="385.5" stroke="#7d7d7d" stroke-width="0.8"/>
<line x1="458.3" y1="372.5" x2="458.3" y2="378" stroke="#7d7d7d" stroke-width="0.8"/>
<line x1="456.1" y1="372.5" x2="460.5" y2="372.5" stroke="#7d7d7d" stroke-width="0.8"/>
<line x1="456.1" y1="378" x2="460.5" y2="378" stroke="#7d7d7d" stroke-width="0.8"/>
<line x1="477.2" y1="362" x2="477.2" y2="371" stroke="#7d7d7d" stroke-width="0.8"/>
<line x1="475" y1="362" x2="479.4" y2="362" stroke="#7d7d7d" stroke-width="0.8"/>
<line x1="475" y1="371" x2="479.4" y2="371" stroke="#7d7d7d" stroke-width="0.8"/>
<line x1="495.2" y1="359.5" x2="495.2" y2="372" stroke="#7d7d7d" stroke-width="0.8"/>
<line x1="493" y1="359.5" x2="497.4" y2="359.5" stroke="#7d7d7d" stroke-width="0.8"/>
<line x1="493" y1="372" x2="497.4" y2="372" stroke="#7d7d7d" stroke-width="0.8"/>
<line x1="439.5" y1="383" x2="439.5" y2="394" stroke="#7d7d7d" stroke-width="0.8"/>
<line x1="437.3" y1="383" x2="441.7" y2="383" stroke="#7d7d7d" stroke-width="0.8"/>
<line x1="437.3" y1="394" x2="441.7" y2="394" stroke="#7d7d7d" stroke-width="0.8"/>
<line x1="458.3" y1="381" x2="458.3" y2="392" stroke="#7d7d7d" stroke-width="0.8"/>
<line x1="456.1" y1="381" x2="460.5" y2="381" stroke="#7d7d7d" stroke-width="0.8"/>
<line x1="456.1" y1="392" x2="460.5" y2="392" stroke="#7d7d7d" stroke-width="0.8"/>
<line x1="477.2" y1="378" x2="477.2" y2="386" stroke="#7d7d7d" stroke-width="0.8"/>
<line x1="475" y1="378" x2="479.4" y2="378" stroke="#7d7d7d" stroke-width="0.8"/>
<line x1="475" y1="386" x2="479.4" y2="386" stroke="#7d7d7d" stroke-width="0.8"/>
<line x1="495.2" y1="372" x2="495.2" y2="389" stroke="#7d7d7d" stroke-width="0.8"/>
<line x1="493" y1="372" x2="497.4" y2="372" stroke="#7d7d7d" stroke-width="0.8"/>
<line x1="493" y1="389" x2="497.4" y2="389" stroke="#7d7d7d" stroke-width="0.8"/>
<polyline points="420.6,392 439.5,389.5 458.3,387.5 477.2,383 495.2,380.5" fill="none" stroke="#a3a3a3" stroke-width="1.5" stroke-linejoin="round"/>
<circle cx="420.6" cy="392" r="2.27" fill="#a3a3a3"/>
<circle cx="439.5" cy="389.5" r="2.27" fill="#a3a3a3"/>
<circle cx="458.3" cy="387.5" r="2.27" fill="#a3a3a3"/>
<circle cx="477.2" cy="383" r="2.27" fill="#a3a3a3"/>
<circle cx="495.2" cy="380.5" r="2.27" fill="#a3a3a3"/>
<polyline points="420.6,391.5 439.5,387.7 458.3,385.5 477.2,381 495.2,377" fill="none" stroke="#0f9a48" stroke-width="1.5" stroke-linejoin="round"/>
<polygon points="417.9,394.17 423.3,394.17 420.6,389.04" fill="#0f9a48"/>
<polygon points="436.8,390.37 442.2,390.37 439.5,385.24" fill="#0f9a48"/>
<polygon points="455.6,388.17 461,388.17 458.3,383.04" fill="#0f9a48"/>
<polygon points="474.5,383.67 479.9,383.67 477.2,378.54" fill="#0f9a48"/>
<polygon points="492.5,379.67 497.9,379.67 495.2,374.54" fill="#0f9a48"/>
<polyline points="420.6,390.5 439.5,381.8 458.3,375 477.2,366.7 495.2,365.6" fill="none" stroke="#231815" stroke-width="1.5" stroke-linejoin="round"/>
<circle cx="420.6" cy="390.5" r="2.27" fill="#231815"/>
<circle cx="439.5" cy="381.8" r="2.27" fill="#231815"/>
<circle cx="458.3" cy="375" r="2.27" fill="#231815"/>
<circle cx="477.2" cy="366.7" r="2.27" fill="#231815"/>
<circle cx="495.2" cy="365.6" r="2.27" fill="#231815"/>
<polyline points="402.3,296.2 420.6,390.5 439.5,351.4 458.3,349.2 477.2,337.9 495.2,334.4" fill="none" stroke="#e60012" stroke-width="1.5" stroke-linejoin="round"/>
<polygon points="399.6,298.87 405,298.87 402.3,293.74" fill="#e60012"/>
<polygon points="417.9,393.17 423.3,393.17 420.6,388.04" fill="#e60012"/>
<polygon points="436.8,354.07 442.2,354.07 439.5,348.94" fill="#e60012"/>
<polygon points="455.6,351.87 461,351.87 458.3,346.74" fill="#e60012"/>
<polygon points="474.5,340.57 479.9,340.57 477.2,335.44" fill="#e60012"/>
<polygon points="492.5,337.07 497.9,337.07 495.2,331.94" fill="#e60012"/>
<path d="M499 334.4H502V376.4H499" fill="none" stroke="#777" stroke-width="0.8"/>
<text x="448" y="360.56" font-size="11" text-anchor="middle" fill="#6b6775" stroke="#6b6775" stroke-width="0.16" font-weight="normal">**</text>
<text x="467" y="355.17" font-size="11" text-anchor="middle" fill="#6b6775" stroke="#6b6775" stroke-width="0.16" font-weight="normal">**</text>
<text x="485.2" y="348.17" font-size="11" text-anchor="middle" fill="#6b6775" stroke="#6b6775" stroke-width="0.16" font-weight="normal">**</text>
<text x="508.5" y="342.17" font-size="11" text-anchor="middle" fill="#6b6775" stroke="#6b6775" stroke-width="0.16" font-weight="normal">**</text>
<text x="25.3" y="448" font-size="16" text-anchor="start" fill="#000" stroke="#000" stroke-width="0.1" font-weight="bold">F</text>
<path d="M72 453.7V567.9H345.4" fill="none" stroke="#231815" stroke-width="1.3" stroke-linecap="square"/>
<line x1="72" y1="453.7" x2="69.5" y2="453.7" stroke="#231815" stroke-width="1"/>
<line x1="72" y1="482.9" x2="69.5" y2="482.9" stroke="#231815" stroke-width="1"/>
<line x1="72" y1="511" x2="69.5" y2="511" stroke="#231815" stroke-width="1"/>
<line x1="72" y1="539.6" x2="69.5" y2="539.6" stroke="#231815" stroke-width="1"/>
<line x1="72" y1="453.7" x2="75" y2="453.7" stroke="#231815" stroke-width="1.2"/>
<line x1="106" y1="567.9" x2="106" y2="564.9" stroke="#231815" stroke-width="1"/>
<line x1="140.2" y1="567.9" x2="140.2" y2="564.9" stroke="#231815" stroke-width="1"/>
<line x1="174.5" y1="567.9" x2="174.5" y2="564.9" stroke="#231815" stroke-width="1"/>
<line x1="209" y1="567.9" x2="209" y2="564.9" stroke="#231815" stroke-width="1"/>
<line x1="243.4" y1="567.9" x2="243.4" y2="564.9" stroke="#231815" stroke-width="1"/>
<line x1="277.3" y1="567.9" x2="277.3" y2="564.9" stroke="#231815" stroke-width="1"/>
<line x1="312" y1="567.9" x2="312" y2="564.9" stroke="#231815" stroke-width="1"/>
<line x1="345.4" y1="567.9" x2="345.4" y2="564.9" stroke="#231815" stroke-width="1"/>
<text x="68.2" y="457.54" font-size="9.4" text-anchor="end" fill="#2f2f2f" stroke="#2f2f2f" stroke-width="0.16" font-weight="normal">400</text>
<text x="68.2" y="486.64" font-size="9.4" text-anchor="end" fill="#2f2f2f" stroke="#2f2f2f" stroke-width="0.16" font-weight="normal">300</text>
<text x="68.2" y="515.44" font-size="9.4" text-anchor="end" fill="#2f2f2f" stroke="#2f2f2f" stroke-width="0.16" font-weight="normal">200</text>
<text x="68.2" y="544.34" font-size="9.4" text-anchor="end" fill="#2f2f2f" stroke="#2f2f2f" stroke-width="0.16" font-weight="normal">100</text>
<text x="68.2" y="569.84" font-size="9.4" text-anchor="end" fill="#2f2f2f" stroke="#2f2f2f" stroke-width="0.16" font-weight="normal">0</text>
<text x="48.2" y="513" font-size="9.8" text-anchor="middle" fill="#2f2f2f" stroke="#2f2f2f" stroke-width="0.16" font-weight="normal" transform="rotate(-90 48.2 513)">Capillary density ( / mm<tspan font-size="6" dy="-3.5">2</tspan><tspan dy="3.5"> )</tspan></text>
<line x1="88.75" y1="473.25" x2="88.75" y2="478.25" stroke="#555" stroke-width="0.9"/>
<line x1="86.45" y1="473.25" x2="91.05" y2="473.25" stroke="#555" stroke-width="0.9"/>
<line x1="86.45" y1="478.25" x2="91.05" y2="478.25" stroke="#555" stroke-width="0.9"/>
<rect x="77.5" y="478.25" width="22.5" height="89.65" fill="#e60012" stroke="#3a3a3a" stroke-width="0.7"/>
<line x1="122.9" y1="513.2" x2="122.9" y2="519.2" stroke="#555" stroke-width="0.9"/>
<line x1="120.6" y1="513.2" x2="125.2" y2="513.2" stroke="#555" stroke-width="0.9"/>
<line x1="120.6" y1="519.2" x2="125.2" y2="519.2" stroke="#555" stroke-width="0.9"/>
<rect x="110.8" y="519.2" width="24.2" height="48.7" fill="#0068b7" stroke="#3a3a3a" stroke-width="0.7"/>
<line x1="157.35" y1="512.7" x2="157.35" y2="519.2" stroke="#555" stroke-width="0.9"/>
<line x1="155.05" y1="512.7" x2="159.65" y2="512.7" stroke="#555" stroke-width="0.9"/>
<line x1="155.05" y1="519.2" x2="159.65" y2="519.2" stroke="#555" stroke-width="0.9"/>
<rect x="145.2" y="519.2" width="24.3" height="48.7" fill="#12a03c" stroke="#3a3a3a" stroke-width="0.7"/>
<line x1="191.55" y1="524.8" x2="191.55" y2="527.8" stroke="#555" stroke-width="0.9"/>
<line x1="189.25" y1="524.8" x2="193.85" y2="524.8" stroke="#555" stroke-width="0.9"/>
<line x1="189.25" y1="527.8" x2="193.85" y2="527.8" stroke="#555" stroke-width="0.9"/>
<rect x="179.4" y="527.8" width="24.3" height="40.1" fill="#a0a0a0" stroke="#3a3a3a" stroke-width="0.7"/>
<line x1="225.85" y1="508.7" x2="225.85" y2="516" stroke="#555" stroke-width="0.9"/>
<line x1="223.55" y1="508.7" x2="228.15" y2="508.7" stroke="#555" stroke-width="0.9"/>
<line x1="223.55" y1="516" x2="228.15" y2="516" stroke="#555" stroke-width="0.9"/>
<rect x="214.4" y="516" width="22.9" height="51.9" fill="#231815" stroke="#3a3a3a" stroke-width="0.7"/>
<line x1="260" y1="522.6" x2="260" y2="526.5" stroke="#555" stroke-width="0.9"/>
<line x1="257.7" y1="522.6" x2="262.3" y2="522.6" stroke="#555" stroke-width="0.9"/>
<line x1="257.7" y1="526.5" x2="262.3" y2="526.5" stroke="#555" stroke-width="0.9"/>
<rect x="248.5" y="526.5" width="23" height="41.4" fill="#e6f2fb" stroke="none" stroke-width="0.8"/>
<path d="M253.1 526.5V567.9M257.7 526.5V567.9M262.3 526.5V567.9M266.9 526.5V567.9M248.5 531.25H271.5M248.5 536H271.5M248.5 540.75H271.5M248.5 545.5H271.5M248.5 550.25H271.5M248.5 555H271.5M248.5 559.75H271.5M248.5 564.5H271.5" fill="none" stroke="#2a72b8" stroke-width="1.1"/>
<rect x="248.5" y="526.5" width="23" height="41.4" fill="none" stroke="#333" stroke-width="0.8"/>
<line x1="294.4" y1="524.2" x2="294.4" y2="527.7" stroke="#555" stroke-width="0.9"/>
<line x1="292.1" y1="524.2" x2="296.7" y2="524.2" stroke="#555" stroke-width="0.9"/>
<line x1="292.1" y1="527.7" x2="296.7" y2="527.7" stroke="#555" stroke-width="0.9"/>
<rect x="283.1" y="527.7" width="22.6" height="40.2" fill="#eaf6ec" stroke="none" stroke-width="0.8"/>
<path d="M287.62 527.7V567.9M292.14 527.7V567.9M296.66 527.7V567.9M301.18 527.7V567.9M283.1 532.45H305.7M283.1 537.2H305.7M283.1 541.95H305.7M283.1 546.7H305.7M283.1 551.45H305.7M283.1 556.2H305.7M283.1 560.95H305.7M283.1 565.7H305.7" fill="none" stroke="#33a055" stroke-width="1.1"/>
<rect x="283.1" y="527.7" width="22.6" height="40.2" fill="none" stroke="#333" stroke-width="0.8"/>
<line x1="328.75" y1="525.8" x2="328.75" y2="529.3" stroke="#555" stroke-width="0.9"/>
<line x1="326.45" y1="525.8" x2="331.05" y2="525.8" stroke="#555" stroke-width="0.9"/>
<line x1="326.45" y1="529.3" x2="331.05" y2="529.3" stroke="#555" stroke-width="0.9"/>
<rect x="317.2" y="529.3" width="23.1" height="38.6" fill="#fbfbfb" stroke="none" stroke-width="0.8"/>
<path d="M321.82 529.3V567.9M326.44 529.3V567.9M331.06 529.3V567.9M335.68 529.3V567.9M317.2 534.05H340.3M317.2 538.8H340.3M317.2 543.55H340.3M317.2 548.3H340.3M317.2 553.05H340.3M317.2 557.8H340.3M317.2 562.55H340.3" fill="none" stroke="#8e8e8e" stroke-width="1.1"/>
<rect x="317.2" y="529.3" width="23.1" height="38.6" fill="none" stroke="#333" stroke-width="0.8"/>
<path d="M88 468.75V462.3H228.7V504.6" fill="none" stroke="#6f6f6f" stroke-width="0.9"/>
<path d="M122.9 505V479.8H191.5V505" fill="none" stroke="#6f6f6f" stroke-width="0.9"/>
<path d="M157 505V495.2H185V505" fill="none" stroke="#6f6f6f" stroke-width="0.9"/>
<path d="M198.3 505V489.3H222.5V505" fill="none" stroke="#6f6f6f" stroke-width="0.9"/>
<text x="159.2" y="462.11" font-size="10.5" text-anchor="middle" fill="#6b6775" stroke="#6b6775" stroke-width="0.16" font-weight="normal">**</text>
<text x="157.3" y="479.91" font-size="10.5" text-anchor="middle" fill="#6b6775" stroke="#6b6775" stroke-width="0.16" font-weight="normal">*</text>
<text x="170.8" y="495.41" font-size="10.5" text-anchor="middle" fill="#6b6775" stroke="#6b6775" stroke-width="0.16" font-weight="normal">*</text>
<text x="210.4" y="488.41" font-size="10.5" text-anchor="middle" fill="#6b6775" stroke="#6b6775" stroke-width="0.16" font-weight="normal">*</text>
<rect x="356.3" y="469.8" width="6.2" height="6.2" fill="#e60012" stroke="none" stroke-width="0.8"/>
<text x="369.4" y="476" font-size="8.8" text-anchor="start" fill="#2f2f2f" stroke="#2f2f2f" stroke-width="0.16" font-weight="normal">HL + tPA + IgG Ab</text>
<rect x="356.3" y="481.9" width="6.2" height="6.2" fill="#0068b7" stroke="none" stroke-width="0.8"/>
<text x="369.4" y="488.1" font-size="8.8" text-anchor="start" fill="#2f2f2f" stroke="#2f2f2f" stroke-width="0.16" font-weight="normal">HL + tPA + anti-VEGFR-1 Ab</text>
<rect x="356.3" y="494.4" width="6.2" height="6.2" fill="#12a03c" stroke="none" stroke-width="0.8"/>
<text x="369.4" y="500.6" font-size="8.8" text-anchor="start" fill="#2f2f2f" stroke="#2f2f2f" stroke-width="0.16" font-weight="normal">HL + tPA + anti-VEGFR-2 Ab</text>
<rect x="356.3" y="507.2" width="6.2" height="6.2" fill="#a0a0a0" stroke="#555" stroke-width="0.8"/>
<text x="369.4" y="513.4" font-size="8.8" text-anchor="start" fill="#2f2f2f" stroke="#2f2f2f" stroke-width="0.16" font-weight="normal">HL + tPA + anti-VEGFR-1+2 Ab</text>
<rect x="356.3" y="519.9" width="6.2" height="6.2" fill="#231815" stroke="none" stroke-width="0.8"/>
<text x="369.4" y="526.1" font-size="8.8" text-anchor="start" fill="#2f2f2f" stroke="#2f2f2f" stroke-width="0.16" font-weight="normal">HL + BSA-PBS + IgG Ab</text>
<rect x="356.3" y="532.1" width="6.2" height="6.2" fill="#cfe3f5" stroke="#3a7fc0" stroke-width="0.8"/>
<text x="369.4" y="538.3" font-size="8.8" text-anchor="start" fill="#2f2f2f" stroke="#2f2f2f" stroke-width="0.16" font-weight="normal">HL + BSA-PBS + anti-VEGFR-1 Ab</text>
<rect x="356.3" y="544.9" width="6.2" height="6.2" fill="#d6eedb" stroke="#3a9a55" stroke-width="0.8"/>
<text x="369.4" y="551.1" font-size="8.8" text-anchor="start" fill="#2f2f2f" stroke="#2f2f2f" stroke-width="0.16" font-weight="normal">HL + BSA-PBS + anti-VEGFR-2 Ab</text>
<rect x="356.3" y="557.4" width="6.2" height="6.2" fill="#f4f4f4" stroke="#8a8a8a" stroke-width="0.8"/>
<text x="369.4" y="563.6" font-size="8.8" text-anchor="start" fill="#2f2f2f" stroke="#2f2f2f" stroke-width="0.16" font-weight="normal">HL + BSA-PBS + anti-VEGFR-1+2 Ab</text>
<text x="2.6" y="607" font-size="16" text-anchor="start" fill="#000" stroke="#000" stroke-width="0.1" font-weight="bold">G</text>
<path d="M35.6 626.9V742.9H150.2" fill="none" stroke="#231815" stroke-width="1.3" stroke-linecap="square"/>
<line x1="35.6" y1="626.9" x2="38.1" y2="626.9" stroke="#231815" stroke-width="1.2"/>
<line x1="35.6" y1="656" x2="38.6" y2="656" stroke="#231815" stroke-width="1"/>
<line x1="35.6" y1="685.3" x2="38.6" y2="685.3" stroke="#231815" stroke-width="1"/>
<line x1="35.6" y1="713.9" x2="38.6" y2="713.9" stroke="#231815" stroke-width="1"/>
<line x1="55.4" y1="742.9" x2="55.4" y2="739.9" stroke="#231815" stroke-width="1"/>
<line x1="73.8" y1="742.9" x2="73.8" y2="739.9" stroke="#231815" stroke-width="1"/>
<line x1="92.3" y1="742.9" x2="92.3" y2="739.9" stroke="#231815" stroke-width="1"/>
<line x1="111.4" y1="742.9" x2="111.4" y2="739.9" stroke="#231815" stroke-width="1"/>
<line x1="130.8" y1="742.9" x2="130.8" y2="739.9" stroke="#231815" stroke-width="1"/>
<line x1="150.2" y1="742.9" x2="150.2" y2="739.9" stroke="#231815" stroke-width="1"/>
<text x="32.4" y="631.34" font-size="6.6" text-anchor="end" fill="#2f2f2f" stroke="#2f2f2f" stroke-width="0.16" font-weight="normal">10000</text>
<text x="32.4" y="661.34" font-size="6.6" text-anchor="end" fill="#2f2f2f" stroke="#2f2f2f" stroke-width="0.16" font-weight="normal">7500</text>
<text x="32.4" y="689.34" font-size="6.6" text-anchor="end" fill="#2f2f2f" stroke="#2f2f2f" stroke-width="0.16" font-weight="normal">5000</text>
<text x="32.4" y="717.64" font-size="6.6" text-anchor="end" fill="#2f2f2f" stroke="#2f2f2f" stroke-width="0.16" font-weight="normal">2500</text>
<text x="32.4" y="743.84" font-size="6.6" text-anchor="end" fill="#2f2f2f" stroke="#2f2f2f" stroke-width="0.16" font-weight="normal">0</text>
<text x="45.5" y="753.5" font-size="7.6" text-anchor="middle" fill="#2f2f2f" stroke="#2f2f2f" stroke-width="0.16" font-weight="normal">0</text>
<text x="64" y="753.5" font-size="7.6" text-anchor="middle" fill="#2f2f2f" stroke="#2f2f2f" stroke-width="0.16" font-weight="normal">1</text>
<text x="82.5" y="753.5" font-size="7.6" text-anchor="middle" fill="#2f2f2f" stroke="#2f2f2f" stroke-width="0.16" font-weight="normal">2</text>
<text x="101" y="753.5" font-size="7.6" text-anchor="middle" fill="#2f2f2f" stroke="#2f2f2f" stroke-width="0.16" font-weight="normal">5</text>
<text x="120" y="753.5" font-size="7.6" text-anchor="middle" fill="#2f2f2f" stroke="#2f2f2f" stroke-width="0.16" font-weight="normal">7</text>
<text x="138.5" y="753.5" font-size="7.6" text-anchor="middle" fill="#2f2f2f" stroke="#2f2f2f" stroke-width="0.16" font-weight="normal">15</text>
<text x="117" y="761.55" font-size="8.6" text-anchor="start" fill="#2f2f2f" stroke="#2f2f2f" stroke-width="0.16" font-weight="normal">( Days )</text>
<text x="14.2" y="685.7" font-size="8.9" text-anchor="middle" fill="#2f2f2f" stroke="#2f2f2f" stroke-width="0.16" font-weight="normal" transform="rotate(-90 14.2 685.7)">WBC ( / µl )</text>
<line x1="65.4" y1="645.4" x2="65.4" y2="664.6" stroke="#7d7d7d" stroke-width="0.75"/>
<line x1="63.6" y1="645.4" x2="67.2" y2="645.4" stroke="#7d7d7d" stroke-width="0.75"/>
<line x1="63.6" y1="664.6" x2="67.2" y2="664.6" stroke="#7d7d7d" stroke-width="0.75"/>
<line x1="65.4" y1="669" x2="65.4" y2="676" stroke="#7d7d7d" stroke-width="0.75"/>
<line x1="63.6" y1="669" x2="67.2" y2="669" stroke="#7d7d7d" stroke-width="0.75"/>
<line x1="63.6" y1="676" x2="67.2" y2="676" stroke="#7d7d7d" stroke-width="0.75"/>
<line x1="65.4" y1="700" x2="65.4" y2="710" stroke="#7d7d7d" stroke-width="0.75"/>
<line x1="63.6" y1="700" x2="67.2" y2="700" stroke="#7d7d7d" stroke-width="0.75"/>
<line x1="63.6" y1="710" x2="67.2" y2="710" stroke="#7d7d7d" stroke-width="0.75"/>
<line x1="83.5" y1="632" x2="83.5" y2="648.5" stroke="#7d7d7d" stroke-width="0.75"/>
<line x1="81.7" y1="632" x2="85.3" y2="632" stroke="#7d7d7d" stroke-width="0.75"/>
<line x1="81.7" y1="648.5" x2="85.3" y2="648.5" stroke="#7d7d7d" stroke-width="0.75"/>
<line x1="83.5" y1="676.6" x2="83.5" y2="687.7" stroke="#7d7d7d" stroke-width="0.75"/>
<line x1="81.7" y1="676.6" x2="85.3" y2="676.6" stroke="#7d7d7d" stroke-width="0.75"/>
<line x1="81.7" y1="687.7" x2="85.3" y2="687.7" stroke="#7d7d7d" stroke-width="0.75"/>
<line x1="83.5" y1="687.7" x2="83.5" y2="709" stroke="#7d7d7d" stroke-width="0.75"/>
<line x1="81.7" y1="687.7" x2="85.3" y2="687.7" stroke="#7d7d7d" stroke-width="0.75"/>
<line x1="81.7" y1="709" x2="85.3" y2="709" stroke="#7d7d7d" stroke-width="0.75"/>
<line x1="103" y1="653.5" x2="103" y2="672" stroke="#7d7d7d" stroke-width="0.75"/>
<line x1="101.2" y1="653.5" x2="104.8" y2="653.5" stroke="#7d7d7d" stroke-width="0.75"/>
<line x1="101.2" y1="672" x2="104.8" y2="672" stroke="#7d7d7d" stroke-width="0.75"/>
<line x1="103" y1="663" x2="103" y2="676" stroke="#7d7d7d" stroke-width="0.75"/>
<line x1="101.2" y1="663" x2="104.8" y2="663" stroke="#7d7d7d" stroke-width="0.75"/>
<line x1="101.2" y1="676" x2="104.8" y2="676" stroke="#7d7d7d" stroke-width="0.75"/>
<line x1="103" y1="690" x2="103" y2="703" stroke="#7d7d7d" stroke-width="0.75"/>
<line x1="101.2" y1="690" x2="104.8" y2="690" stroke="#7d7d7d" stroke-width="0.75"/>
<line x1="101.2" y1="703" x2="104.8" y2="703" stroke="#7d7d7d" stroke-width="0.75"/>
<line x1="121.1" y1="662.7" x2="121.1" y2="677.7" stroke="#7d7d7d" stroke-width="0.75"/>
<line x1="119.3" y1="662.7" x2="122.9" y2="662.7" stroke="#7d7d7d" stroke-width="0.75"/>
<line x1="119.3" y1="677.7" x2="122.9" y2="677.7" stroke="#7d7d7d" stroke-width="0.75"/>
<line x1="140.5" y1="667.6" x2="140.5" y2="677.7" stroke="#7d7d7d" stroke-width="0.75"/>
<line x1="138.7" y1="667.6" x2="142.3" y2="667.6" stroke="#7d7d7d" stroke-width="0.75"/>
<line x1="138.7" y1="677.7" x2="142.3" y2="677.7" stroke="#7d7d7d" stroke-width="0.75"/>
<line x1="140.5" y1="683.5" x2="140.5" y2="693.5" stroke="#7d7d7d" stroke-width="0.75"/>
<line x1="138.7" y1="683.5" x2="142.3" y2="683.5" stroke="#7d7d7d" stroke-width="0.75"/>
<line x1="138.7" y1="693.5" x2="142.3" y2="693.5" stroke="#7d7d7d" stroke-width="0.75"/>
<line x1="121.1" y1="685" x2="121.1" y2="694" stroke="#7d7d7d" stroke-width="0.75"/>
<line x1="119.3" y1="685" x2="122.9" y2="685" stroke="#7d7d7d" stroke-width="0.75"/>
<line x1="119.3" y1="694" x2="122.9" y2="694" stroke="#7d7d7d" stroke-width="0.75"/>
<polyline points="45.8,682 65.4,705.4 83.5,721.5 103,697.7 121.1,689.2 140.5,687" fill="none" stroke="#a3a3a3" stroke-width="1.25" stroke-linejoin="round"/>
<circle cx="45.8" cy="682" r="2.4" fill="#a3a3a3"/>
<circle cx="65.4" cy="705.4" r="2.4" fill="#a3a3a3"/>
<circle cx="83.5" cy="721.5" r="2.4" fill="#a3a3a3"/>
<circle cx="103" cy="697.7" r="2.4" fill="#a3a3a3"/>
<circle cx="121.1" cy="689.2" r="2.4" fill="#a3a3a3"/>
<circle cx="140.5" cy="687" r="2.4" fill="#a3a3a3"/>
<polyline points="45.8,682 65.4,707.7 83.5,681.5 103,696 121.1,690.7 140.5,689.2" fill="none" stroke="#92278f" stroke-width="1.25" stroke-linejoin="round"/>
<circle cx="45.8" cy="682" r="2.4" fill="#92278f"/>
<circle cx="65.4" cy="707.7" r="2.4" fill="#92278f"/>
<circle cx="83.5" cy="681.5" r="2.4" fill="#92278f"/>
<circle cx="103" cy="696" r="2.4" fill="#92278f"/>
<circle cx="121.1" cy="690.7" r="2.4" fill="#92278f"/>
<circle cx="140.5" cy="689.2" r="2.4" fill="#92278f"/>
<polyline points="45.8,682 65.4,708 83.5,698.5 103,683 121.1,687 140.5,689.2" fill="none" stroke="#0f9a48" stroke-width="1.25" stroke-linejoin="round"/>
<polygon points="42.9,684.87 48.7,684.87 45.8,679.36" fill="#0f9a48"/>
<polygon points="62.5,710.87 68.3,710.87 65.4,705.36" fill="#0f9a48"/>
<polygon points="80.6,701.37 86.4,701.37 83.5,695.86" fill="#0f9a48"/>
<polygon points="100.1,685.87 105.9,685.87 103,680.36" fill="#0f9a48"/>
<polygon points="118.2,689.87 124,689.87 121.1,684.36" fill="#0f9a48"/>
<polygon points="137.6,692.07 143.4,692.07 140.5,686.56" fill="#0f9a48"/>
<polyline points="45.8,682 65.4,673.8 83.5,661.2 103,668.5 121.1,674.8 140.5,680" fill="none" stroke="#231815" stroke-width="1.25" stroke-linejoin="round"/>
<circle cx="45.8" cy="682" r="2.4" fill="#231815"/>
<circle cx="65.4" cy="673.8" r="2.4" fill="#231815"/>
<circle cx="83.5" cy="661.2" r="2.4" fill="#231815"/>
<circle cx="103" cy="668.5" r="2.4" fill="#231815"/>
<circle cx="121.1" cy="674.8" r="2.4" fill="#231815"/>
<circle cx="140.5" cy="680" r="2.4" fill="#231815"/>
<polyline points="45.8,682 65.4,678 83.5,661.2 103,681.5 121.1,688.6 140.5,689.2" fill="none" stroke="#f5a800" stroke-width="1.25" stroke-linejoin="round"/>
<polygon points="42.9,684.87 48.7,684.87 45.8,679.36" fill="#f5a800"/>
<polygon points="62.5,680.87 68.3,680.87 65.4,675.36" fill="#f5a800"/>
<polygon points="80.6,664.07 86.4,664.07 83.5,658.56" fill="#f5a800"/>
<polygon points="100.1,684.37 105.9,684.37 103,678.86" fill="#f5a800"/>
<polygon points="118.2,691.47 124,691.47 121.1,685.96" fill="#f5a800"/>
<polygon points="137.6,692.07 143.4,692.07 140.5,686.56" fill="#f5a800"/>
<polyline points="45.8,682 65.4,655.7 83.5,640.8 103,663 121.1,672 140.5,675.4" fill="none" stroke="#e60012" stroke-width="1.25" stroke-linejoin="round"/>
<polygon points="42.9,684.87 48.7,684.87 45.8,679.36" fill="#e60012"/>
<polygon points="62.5,658.57 68.3,658.57 65.4,653.06" fill="#e60012"/>
<polygon points="80.6,643.67 86.4,643.67 83.5,638.16" fill="#e60012"/>
<polygon points="100.1,665.87 105.9,665.87 103,660.36" fill="#e60012"/>
<polygon points="118.2,674.87 124,674.87 121.1,669.36" fill="#e60012"/>
<polygon points="137.6,678.27 143.4,678.27 140.5,672.76" fill="#e60012"/>
<path d="M62 654.6H60V707.4H62" fill="none" stroke="#777" stroke-width="0.8"/>
<path d="M79.4 640H77.4V660.3H79.4M87.7 640H89.7V660.3H87.7" fill="none" stroke="#777" stroke-width="0.8"/>
<text x="94.6" y="647.45" font-size="10" text-anchor="middle" fill="#6b6775" stroke="#6b6775" stroke-width="0.16" font-weight="normal">*</text>
<text x="55.8" y="660.3" font-size="8" text-anchor="middle" fill="#777" stroke="#777" stroke-width="0.16" font-weight="normal">†</text>
<text x="79.5" y="635.6" font-size="8" text-anchor="middle" fill="#777" stroke="#777" stroke-width="0.16" font-weight="normal">†</text>
<text x="73.8" y="655.41" font-size="7" text-anchor="middle" fill="#777" stroke="#777" stroke-width="0.16" font-weight="normal">#</text>
<text x="145" y="607" font-size="16" text-anchor="start" fill="#000" stroke="#000" stroke-width="0.1" font-weight="bold">H</text>
<path d="M179.5 629V742.9H292.5" fill="none" stroke="#231815" stroke-width="1.3" stroke-linecap="square"/>
<line x1="179.5" y1="629" x2="182" y2="629" stroke="#231815" stroke-width="1.2"/>
<line x1="179.5" y1="666.7" x2="182.5" y2="666.7" stroke="#231815" stroke-width="1"/>
<line x1="179.5" y1="704.4" x2="182.5" y2="704.4" stroke="#231815" stroke-width="1"/>
<line x1="199.5" y1="742.9" x2="199.5" y2="739.9" stroke="#231815" stroke-width="1"/>
<line x1="218" y1="742.9" x2="218" y2="739.9" stroke="#231815" stroke-width="1"/>
<line x1="236.25" y1="742.9" x2="236.25" y2="739.9" stroke="#231815" stroke-width="1"/>
<line x1="255" y1="742.9" x2="255" y2="739.9" stroke="#231815" stroke-width="1"/>
<line x1="273.75" y1="742.9" x2="273.75" y2="739.9" stroke="#231815" stroke-width="1"/>
<line x1="292.5" y1="742.9" x2="292.5" y2="739.9" stroke="#231815" stroke-width="1"/>
<text x="176.6" y="631.88" font-size="7" text-anchor="end" fill="#2f2f2f" stroke="#2f2f2f" stroke-width="0.16" font-weight="normal">3000</text>
<text x="176.6" y="670.28" font-size="7" text-anchor="end" fill="#2f2f2f" stroke="#2f2f2f" stroke-width="0.16" font-weight="normal">2000</text>
<text x="176.6" y="708.59" font-size="7" text-anchor="end" fill="#2f2f2f" stroke="#2f2f2f" stroke-width="0.16" font-weight="normal">1000</text>
<text x="176.6" y="744.69" font-size="7" text-anchor="end" fill="#2f2f2f" stroke="#2f2f2f" stroke-width="0.16" font-weight="normal">0</text>
<text x="189.5" y="753.3" font-size="7.6" text-anchor="middle" fill="#2f2f2f" stroke="#2f2f2f" stroke-width="0.16" font-weight="normal">0</text>
<text x="207.5" y="753.3" font-size="7.6" text-anchor="middle" fill="#2f2f2f" stroke="#2f2f2f" stroke-width="0.16" font-weight="normal">1</text>
<text x="225.5" y="753.3" font-size="7.6" text-anchor="middle" fill="#2f2f2f" stroke="#2f2f2f" stroke-width="0.16" font-weight="normal">2</text>
<text x="243.8" y="753.3" font-size="7.6" text-anchor="middle" fill="#2f2f2f" stroke="#2f2f2f" stroke-width="0.16" font-weight="normal">5</text>
<text x="262.9" y="753.3" font-size="7.6" text-anchor="middle" fill="#2f2f2f" stroke="#2f2f2f" stroke-width="0.16" font-weight="normal">7</text>
<text x="281.2" y="753.3" font-size="7.6" text-anchor="middle" fill="#2f2f2f" stroke="#2f2f2f" stroke-width="0.16" font-weight="normal">15</text>
<text x="261.1" y="762.35" font-size="8.6" text-anchor="start" fill="#2f2f2f" stroke="#2f2f2f" stroke-width="0.16" font-weight="normal">( Days )</text>
<text x="157.5" y="687.3" font-size="8.9" text-anchor="middle" fill="#2f2f2f" stroke="#2f2f2f" stroke-width="0.16" font-weight="normal" transform="rotate(-90 157.5 687.3)">Neutrophil ( / µl )</text>
<line x1="189.5" y1="692" x2="189.5" y2="704.5" stroke="#7d7d7d" stroke-width="0.75"/>
<line x1="187.7" y1="692" x2="191.3" y2="692" stroke="#7d7d7d" stroke-width="0.75"/>
<line x1="187.7" y1="704.5" x2="191.3" y2="704.5" stroke="#7d7d7d" stroke-width="0.75"/>
<line x1="208.25" y1="672.5" x2="208.25" y2="688.75" stroke="#7d7d7d" stroke-width="0.75"/>
<line x1="206.45" y1="672.5" x2="210.05" y2="672.5" stroke="#7d7d7d" stroke-width="0.75"/>
<line x1="206.45" y1="688.75" x2="210.05" y2="688.75" stroke="#7d7d7d" stroke-width="0.75"/>
<line x1="227" y1="643.75" x2="227" y2="661.25" stroke="#7d7d7d" stroke-width="0.75"/>
<line x1="225.2" y1="643.75" x2="228.8" y2="643.75" stroke="#7d7d7d" stroke-width="0.75"/>
<line x1="225.2" y1="661.25" x2="228.8" y2="661.25" stroke="#7d7d7d" stroke-width="0.75"/>
<line x1="245" y1="663.75" x2="245" y2="686.25" stroke="#7d7d7d" stroke-width="0.75"/>
<line x1="243.2" y1="663.75" x2="246.8" y2="663.75" stroke="#7d7d7d" stroke-width="0.75"/>
<line x1="243.2" y1="686.25" x2="246.8" y2="686.25" stroke="#7d7d7d" stroke-width="0.75"/>
<line x1="264" y1="683.75" x2="264" y2="699.5" stroke="#7d7d7d" stroke-width="0.75"/>
<line x1="262.2" y1="683.75" x2="265.8" y2="683.75" stroke="#7d7d7d" stroke-width="0.75"/>
<line x1="262.2" y1="699.5" x2="265.8" y2="699.5" stroke="#7d7d7d" stroke-width="0.75"/>
<line x1="282.5" y1="694" x2="282.5" y2="704" stroke="#7d7d7d" stroke-width="0.75"/>
<line x1="280.7" y1="694" x2="284.3" y2="694" stroke="#7d7d7d" stroke-width="0.75"/>
<line x1="280.7" y1="704" x2="284.3" y2="704" stroke="#7d7d7d" stroke-width="0.75"/>
<line x1="227" y1="672" x2="227" y2="687" stroke="#7d7d7d" stroke-width="0.75"/>
<line x1="225.2" y1="672" x2="228.8" y2="672" stroke="#7d7d7d" stroke-width="0.75"/>
<line x1="225.2" y1="687" x2="228.8" y2="687" stroke="#7d7d7d" stroke-width="0.75"/>
<line x1="227" y1="685" x2="227" y2="697" stroke="#7d7d7d" stroke-width="0.75"/>
<line x1="225.2" y1="685" x2="228.8" y2="685" stroke="#7d7d7d" stroke-width="0.75"/>
<line x1="225.2" y1="697" x2="228.8" y2="697" stroke="#7d7d7d" stroke-width="0.75"/>
<line x1="208.25" y1="701" x2="208.25" y2="713" stroke="#7d7d7d" stroke-width="0.75"/>
<line x1="206.45" y1="701" x2="210.05" y2="701" stroke="#7d7d7d" stroke-width="0.75"/>
<line x1="206.45" y1="713" x2="210.05" y2="713" stroke="#7d7d7d" stroke-width="0.75"/>
<line x1="245" y1="711" x2="245" y2="721" stroke="#7d7d7d" stroke-width="0.75"/>
<line x1="243.2" y1="711" x2="246.8" y2="711" stroke="#7d7d7d" stroke-width="0.75"/>
<line x1="243.2" y1="721" x2="246.8" y2="721" stroke="#7d7d7d" stroke-width="0.75"/>
<line x1="264" y1="705" x2="264" y2="715" stroke="#7d7d7d" stroke-width="0.75"/>
<line x1="262.2" y1="705" x2="265.8" y2="705" stroke="#7d7d7d" stroke-width="0.75"/>
<line x1="262.2" y1="715" x2="265.8" y2="715" stroke="#7d7d7d" stroke-width="0.75"/>
<line x1="282.5" y1="706" x2="282.5" y2="715" stroke="#7d7d7d" stroke-width="0.75"/>
<line x1="280.7" y1="706" x2="284.3" y2="706" stroke="#7d7d7d" stroke-width="0.75"/>
<line x1="280.7" y1="715" x2="284.3" y2="715" stroke="#7d7d7d" stroke-width="0.75"/>
<line x1="245" y1="688" x2="245" y2="698" stroke="#7d7d7d" stroke-width="0.75"/>
<line x1="243.2" y1="688" x2="246.8" y2="688" stroke="#7d7d7d" stroke-width="0.75"/>
<line x1="243.2" y1="698" x2="246.8" y2="698" stroke="#7d7d7d" stroke-width="0.75"/>
<polyline points="189.5,698.75 208.25,703.75 227,700 245,716.25 264,712 282.5,712.5" fill="none" stroke="#92278f" stroke-width="1.25" stroke-linejoin="round"/>
<circle cx="189.5" cy="698.75" r="2.4" fill="#92278f"/>
<circle cx="208.25" cy="703.75" r="2.4" fill="#92278f"/>
<circle cx="227" cy="700" r="2.4" fill="#92278f"/>
<circle cx="245" cy="716.25" r="2.4" fill="#92278f"/>
<circle cx="264" cy="712" r="2.4" fill="#92278f"/>
<circle cx="282.5" cy="712.5" r="2.4" fill="#92278f"/>
<polyline points="189.5,698.75 208.25,700 227,691.25 245,708.75 264,708 282.5,710" fill="none" stroke="#f5a800" stroke-width="1.25" stroke-linejoin="round"/>
<polygon points="186.6,701.62 192.4,701.62 189.5,696.11" fill="#f5a800"/>
<polygon points="205.35,702.87 211.15,702.87 208.25,697.36" fill="#f5a800"/>
<polygon points="224.1,694.12 229.9,694.12 227,688.61" fill="#f5a800"/>
<polygon points="242.1,711.62 247.9,711.62 245,706.11" fill="#f5a800"/>
<polygon points="261.1,710.87 266.9,710.87 264,705.36" fill="#f5a800"/>
<polygon points="279.6,712.87 285.4,712.87 282.5,707.36" fill="#f5a800"/>
<polyline points="189.5,698.75 208.25,707 227,717.5 245,714.5 264,697.5 282.5,688" fill="none" stroke="#0f9a48" stroke-width="1.25" stroke-linejoin="round"/>
<polygon points="186.6,701.62 192.4,701.62 189.5,696.11" fill="#0f9a48"/>
<polygon points="205.35,709.87 211.15,709.87 208.25,704.36" fill="#0f9a48"/>
<polygon points="224.1,720.37 229.9,720.37 227,714.86" fill="#0f9a48"/>
<polygon points="242.1,717.37 247.9,717.37 245,711.86" fill="#0f9a48"/>
<polygon points="261.1,700.37 266.9,700.37 264,694.86" fill="#0f9a48"/>
<polygon points="279.6,690.87 285.4,690.87 282.5,685.36" fill="#0f9a48"/>
<polyline points="189.5,698.75 208.25,696.25 227,679.5 245,693 264,697.5 282.5,698.75" fill="none" stroke="#231815" stroke-width="1.25" stroke-linejoin="round"/>
<circle cx="189.5" cy="698.75" r="2.4" fill="#231815"/>
<circle cx="208.25" cy="696.25" r="2.4" fill="#231815"/>
<circle cx="227" cy="679.5" r="2.4" fill="#231815"/>
<circle cx="245" cy="693" r="2.4" fill="#231815"/>
<circle cx="264" cy="697.5" r="2.4" fill="#231815"/>
<circle cx="282.5" cy="698.75" r="2.4" fill="#231815"/>
<polyline points="189.5,698.75 208.25,680.75 227,652.5 245,675 264,691.25 282.5,699.5" fill="none" stroke="#e60012" stroke-width="1.25" stroke-linejoin="round"/>
<polygon points="186.6,701.62 192.4,701.62 189.5,696.11" fill="#e60012"/>
<polygon points="205.35,683.62 211.15,683.62 208.25,678.11" fill="#e60012"/>
<polygon points="224.1,655.37 229.9,655.37 227,649.86" fill="#e60012"/>
<polygon points="242.1,677.87 247.9,677.87 245,672.36" fill="#e60012"/>
<polygon points="261.1,694.12 266.9,694.12 264,688.61" fill="#e60012"/>
<polygon points="279.6,702.37 285.4,702.37 282.5,696.86" fill="#e60012"/>
<path d="M223.75 652.5H221.75V689.5H223.75M231.25 652.5H233.25V689.5H231.25" fill="none" stroke="#777" stroke-width="0.8"/>
<path d="M239 673.75H237V712H239M249.25 673.75H251.25V712H249.25" fill="none" stroke="#777" stroke-width="0.8"/>
<text x="237.5" y="658.9" font-size="10" text-anchor="middle" fill="#6b6775" stroke="#6b6775" stroke-width="0.16" font-weight="normal">*</text>
<text x="231.25" y="644.6" font-size="8" text-anchor="middle" fill="#777" stroke="#777" stroke-width="0.16" font-weight="normal">†</text>
<text x="254.5" y="677.6" font-size="8" text-anchor="middle" fill="#777" stroke="#777" stroke-width="0.16" font-weight="normal">†</text>
<text x="218.75" y="676.91" font-size="7" text-anchor="middle" fill="#777" stroke="#777" stroke-width="0.16" font-weight="normal">#</text>
<text x="240.2" y="677.91" font-size="7" text-anchor="middle" fill="#777" stroke="#777" stroke-width="0.16" font-weight="normal">#</text>
<text x="289.6" y="606.5" font-size="16" text-anchor="start" fill="#000" stroke="#000" stroke-width="0.1" font-weight="bold">I</text>
<path d="M319.1 629V742.9H432" fill="none" stroke="#231815" stroke-width="1.3" stroke-linecap="square"/>
<line x1="319.1" y1="629" x2="321.6" y2="629" stroke="#231815" stroke-width="1.2"/>
<line x1="319.1" y1="651.6" x2="322.1" y2="651.6" stroke="#231815" stroke-width="1"/>
<line x1="319.1" y1="674.4" x2="322.1" y2="674.4" stroke="#231815" stroke-width="1"/>
<line x1="319.1" y1="697.4" x2="322.1" y2="697.4" stroke="#231815" stroke-width="1"/>
<line x1="319.1" y1="719.8" x2="322.1" y2="719.8" stroke="#231815" stroke-width="1"/>
<line x1="339" y1="742.9" x2="339" y2="739.9" stroke="#231815" stroke-width="1"/>
<line x1="357.9" y1="742.9" x2="357.9" y2="739.9" stroke="#231815" stroke-width="1"/>
<line x1="376.7" y1="742.9" x2="376.7" y2="739.9" stroke="#231815" stroke-width="1"/>
<line x1="395.6" y1="742.9" x2="395.6" y2="739.9" stroke="#231815" stroke-width="1"/>
<line x1="413.6" y1="742.9" x2="413.6" y2="739.9" stroke="#231815" stroke-width="1"/>
<line x1="432" y1="742.9" x2="432" y2="739.9" stroke="#231815" stroke-width="1"/>
<text x="316.6" y="633.08" font-size="7.55" text-anchor="end" fill="#2f2f2f" stroke="#2f2f2f" stroke-width="0.16" font-weight="normal">500</text>
<text x="316.6" y="656.08" font-size="7.55" text-anchor="end" fill="#2f2f2f" stroke="#2f2f2f" stroke-width="0.16" font-weight="normal">400</text>
<text x="316.6" y="678.48" font-size="7.55" text-anchor="end" fill="#2f2f2f" stroke="#2f2f2f" stroke-width="0.16" font-weight="normal">300</text>
<text x="316.6" y="701.28" font-size="7.55" text-anchor="end" fill="#2f2f2f" stroke="#2f2f2f" stroke-width="0.16" font-weight="normal">200</text>
<text x="316.6" y="723.18" font-size="7.55" text-anchor="end" fill="#2f2f2f" stroke="#2f2f2f" stroke-width="0.16" font-weight="normal">100</text>
<text x="316.6" y="744.88" font-size="7.55" text-anchor="end" fill="#2f2f2f" stroke="#2f2f2f" stroke-width="0.16" font-weight="normal">0</text>
<text x="329.8" y="752.1" font-size="7.6" text-anchor="middle" fill="#2f2f2f" stroke="#2f2f2f" stroke-width="0.16" font-weight="normal">0</text>
<text x="348.3" y="752.1" font-size="7.6" text-anchor="middle" fill="#2f2f2f" stroke="#2f2f2f" stroke-width="0.16" font-weight="normal">1</text>
<text x="366.8" y="752.1" font-size="7.6" text-anchor="middle" fill="#2f2f2f" stroke="#2f2f2f" stroke-width="0.16" font-weight="normal">2</text>
<text x="386.1" y="752.1" font-size="7.6" text-anchor="middle" fill="#2f2f2f" stroke="#2f2f2f" stroke-width="0.16" font-weight="normal">5</text>
<text x="404.6" y="752.1" font-size="7.6" text-anchor="middle" fill="#2f2f2f" stroke="#2f2f2f" stroke-width="0.16" font-weight="normal">7</text>
<text x="424.4" y="752.1" font-size="7.6" text-anchor="middle" fill="#2f2f2f" stroke="#2f2f2f" stroke-width="0.16" font-weight="normal">15</text>
<text x="400.9" y="760.75" font-size="8.6" text-anchor="start" fill="#2f2f2f" stroke="#2f2f2f" stroke-width="0.16" font-weight="normal">( Days )</text>
<text x="300.5" y="684" font-size="8.9" text-anchor="middle" fill="#2f2f2f" stroke="#2f2f2f" stroke-width="0.16" font-weight="normal" transform="rotate(-90 300.5 684)">Monocyte ( / µl )</text>
<line x1="330.2" y1="715.6" x2="330.2" y2="729" stroke="#7d7d7d" stroke-width="0.75"/>
<line x1="328.4" y1="715.6" x2="332" y2="715.6" stroke="#7d7d7d" stroke-width="0.75"/>
<line x1="328.4" y1="729" x2="332" y2="729" stroke="#7d7d7d" stroke-width="0.75"/>
<line x1="349" y1="668.5" x2="349" y2="690.5" stroke="#7d7d7d" stroke-width="0.75"/>
<line x1="347.2" y1="668.5" x2="350.8" y2="668.5" stroke="#7d7d7d" stroke-width="0.75"/>
<line x1="347.2" y1="690.5" x2="350.8" y2="690.5" stroke="#7d7d7d" stroke-width="0.75"/>
<line x1="367.3" y1="634" x2="367.3" y2="664.4" stroke="#7d7d7d" stroke-width="0.75"/>
<line x1="365.5" y1="634" x2="369.1" y2="634" stroke="#7d7d7d" stroke-width="0.75"/>
<line x1="365.5" y1="664.4" x2="369.1" y2="664.4" stroke="#7d7d7d" stroke-width="0.75"/>
<line x1="385.6" y1="679.8" x2="385.6" y2="692.2" stroke="#7d7d7d" stroke-width="0.75"/>
<line x1="383.8" y1="679.8" x2="387.4" y2="679.8" stroke="#7d7d7d" stroke-width="0.75"/>
<line x1="383.8" y1="692.2" x2="387.4" y2="692.2" stroke="#7d7d7d" stroke-width="0.75"/>
<line x1="367.3" y1="696.7" x2="367.3" y2="708.9" stroke="#7d7d7d" stroke-width="0.75"/>
<line x1="365.5" y1="696.7" x2="369.1" y2="696.7" stroke="#7d7d7d" stroke-width="0.75"/>
<line x1="365.5" y1="708.9" x2="369.1" y2="708.9" stroke="#7d7d7d" stroke-width="0.75"/>
<line x1="385.6" y1="696" x2="385.6" y2="706.7" stroke="#7d7d7d" stroke-width="0.75"/>
<line x1="383.8" y1="696" x2="387.4" y2="696" stroke="#7d7d7d" stroke-width="0.75"/>
<line x1="383.8" y1="706.7" x2="387.4" y2="706.7" stroke="#7d7d7d" stroke-width="0.75"/>
<line x1="349" y1="698" x2="349" y2="721" stroke="#7d7d7d" stroke-width="0.75"/>
<line x1="347.2" y1="698" x2="350.8" y2="698" stroke="#7d7d7d" stroke-width="0.75"/>
<line x1="347.2" y1="721" x2="350.8" y2="721" stroke="#7d7d7d" stroke-width="0.75"/>
<line x1="349" y1="729" x2="349" y2="739.8" stroke="#7d7d7d" stroke-width="0.75"/>
<line x1="347.2" y1="729" x2="350.8" y2="729" stroke="#7d7d7d" stroke-width="0.75"/>
<line x1="347.2" y1="739.8" x2="350.8" y2="739.8" stroke="#7d7d7d" stroke-width="0.75"/>
<line x1="404.5" y1="705.6" x2="404.5" y2="716.4" stroke="#7d7d7d" stroke-width="0.75"/>
<line x1="402.7" y1="705.6" x2="406.3" y2="705.6" stroke="#7d7d7d" stroke-width="0.75"/>
<line x1="402.7" y1="716.4" x2="406.3" y2="716.4" stroke="#7d7d7d" stroke-width="0.75"/>
<line x1="404.5" y1="713" x2="404.5" y2="722.3" stroke="#7d7d7d" stroke-width="0.75"/>
<line x1="402.7" y1="713" x2="406.3" y2="713" stroke="#7d7d7d" stroke-width="0.75"/>
<line x1="402.7" y1="722.3" x2="406.3" y2="722.3" stroke="#7d7d7d" stroke-width="0.75"/>
<line x1="422.5" y1="713" x2="422.5" y2="721.8" stroke="#7d7d7d" stroke-width="0.75"/>
<line x1="420.7" y1="713" x2="424.3" y2="713" stroke="#7d7d7d" stroke-width="0.75"/>
<line x1="420.7" y1="721.8" x2="424.3" y2="721.8" stroke="#7d7d7d" stroke-width="0.75"/>
<line x1="367.3" y1="722" x2="367.3" y2="734" stroke="#7d7d7d" stroke-width="0.75"/>
<line x1="365.5" y1="722" x2="369.1" y2="722" stroke="#7d7d7d" stroke-width="0.75"/>
<line x1="365.5" y1="734" x2="369.1" y2="734" stroke="#7d7d7d" stroke-width="0.75"/>
<line x1="385.6" y1="729" x2="385.6" y2="740" stroke="#7d7d7d" stroke-width="0.75"/>
<line x1="383.8" y1="729" x2="387.4" y2="729" stroke="#7d7d7d" stroke-width="0.75"/>
<line x1="383.8" y1="740" x2="387.4" y2="740" stroke="#7d7d7d" stroke-width="0.75"/>
<line x1="422.5" y1="722" x2="422.5" y2="732" stroke="#7d7d7d" stroke-width="0.75"/>
<line x1="420.7" y1="722" x2="424.3" y2="722" stroke="#7d7d7d" stroke-width="0.75"/>
<line x1="420.7" y1="732" x2="424.3" y2="732" stroke="#7d7d7d" stroke-width="0.75"/>
<polyline points="330.2,722.3 349,709.4 367.3,729 385.6,735.2 404.5,729 422.5,726.4" fill="none" stroke="#a3a3a3" stroke-width="1.25" stroke-linejoin="round"/>
<circle cx="330.2" cy="722.3" r="2.4" fill="#a3a3a3"/>
<circle cx="349" cy="709.4" r="2.4" fill="#a3a3a3"/>
<circle cx="367.3" cy="729" r="2.4" fill="#a3a3a3"/>
<circle cx="385.6" cy="735.2" r="2.4" fill="#a3a3a3"/>
<circle cx="404.5" cy="729" r="2.4" fill="#a3a3a3"/>
<circle cx="422.5" cy="726.4" r="2.4" fill="#a3a3a3"/>
<polyline points="330.2,722.3 349,734.4 367.3,727.2 385.6,725 404.5,728 422.5,727.7" fill="none" stroke="#92278f" stroke-width="1.25" stroke-linejoin="round"/>
<circle cx="330.2" cy="722.3" r="2.4" fill="#92278f"/>
<circle cx="349" cy="734.4" r="2.4" fill="#92278f"/>
<circle cx="367.3" cy="727.2" r="2.4" fill="#92278f"/>
<circle cx="385.6" cy="725" r="2.4" fill="#92278f"/>
<circle cx="404.5" cy="728" r="2.4" fill="#92278f"/>
<circle cx="422.5" cy="727.7" r="2.4" fill="#92278f"/>
<polyline points="330.2,722.3 349,714.8 367.3,720.2 385.6,723.7 404.5,717 422.5,730.4" fill="none" stroke="#0f9a48" stroke-width="1.25" stroke-linejoin="round"/>
<polygon points="327.3,725.17 333.1,725.17 330.2,719.66" fill="#0f9a48"/>
<polygon points="346.1,717.67 351.9,717.67 349,712.16" fill="#0f9a48"/>
<polygon points="364.4,723.07 370.2,723.07 367.3,717.56" fill="#0f9a48"/>
<polygon points="382.7,726.57 388.5,726.57 385.6,721.06" fill="#0f9a48"/>
<polygon points="401.6,719.87 407.4,719.87 404.5,714.36" fill="#0f9a48"/>
<polygon points="419.6,733.27 425.4,733.27 422.5,727.76" fill="#0f9a48"/>
<polyline points="330.2,722.3 349,715.6 367.3,712.9 385.6,727.7 404.5,728.2 422.5,727.2" fill="none" stroke="#f5a800" stroke-width="1.25" stroke-linejoin="round"/>
<polygon points="327.3,725.17 333.1,725.17 330.2,719.66" fill="#f5a800"/>
<polygon points="346.1,718.47 351.9,718.47 349,712.96" fill="#f5a800"/>
<polygon points="364.4,715.77 370.2,715.77 367.3,710.26" fill="#f5a800"/>
<polygon points="382.7,730.57 388.5,730.57 385.6,725.06" fill="#f5a800"/>
<polygon points="401.6,731.07 407.4,731.07 404.5,725.56" fill="#f5a800"/>
<polygon points="419.6,730.07 425.4,730.07 422.5,724.56" fill="#f5a800"/>
<polyline points="330.2,722.3 349,714.8 367.3,703 385.6,699.4 404.5,712.9 422.5,717.5" fill="none" stroke="#231815" stroke-width="1.25" stroke-linejoin="round"/>
<circle cx="330.2" cy="722.3" r="2.4" fill="#231815"/>
<circle cx="349" cy="714.8" r="2.4" fill="#231815"/>
<circle cx="367.3" cy="703" r="2.4" fill="#231815"/>
<circle cx="385.6" cy="699.4" r="2.4" fill="#231815"/>
<circle cx="404.5" cy="712.9" r="2.4" fill="#231815"/>
<circle cx="422.5" cy="717.5" r="2.4" fill="#231815"/>
<polyline points="330.2,722.3 349,681.4 367.3,649.6 385.6,686 404.5,711.5 422.5,717" fill="none" stroke="#e60012" stroke-width="1.25" stroke-linejoin="round"/>
<polygon points="327.3,725.17 333.1,725.17 330.2,719.66" fill="#e60012"/>
<polygon points="346.1,684.27 351.9,684.27 349,678.76" fill="#e60012"/>
<polygon points="364.4,652.47 370.2,652.47 367.3,646.96" fill="#e60012"/>
<polygon points="382.7,688.87 388.5,688.87 385.6,683.36" fill="#e60012"/>
<polygon points="401.6,714.37 407.4,714.37 404.5,708.86" fill="#e60012"/>
<polygon points="419.6,719.87 425.4,719.87 422.5,714.36" fill="#e60012"/>
<path d="M361.8 649H359.8V710.2H361.8M370.7 649H372.7V703.5H370.7" fill="none" stroke="#777" stroke-width="0.8"/>
<path d="M389.5 684.6H387.5V723.7H389.5" fill="none" stroke="#777" stroke-width="0.8"/>
<text x="341.7" y="688.45" font-size="10" text-anchor="middle" fill="#6b6775" stroke="#6b6775" stroke-width="0.16" font-weight="normal">*</text>
<text x="377.5" y="660.65" font-size="10" text-anchor="middle" fill="#6b6775" stroke="#6b6775" stroke-width="0.16" font-weight="normal">*</text>
<text x="345.2" y="677.8" font-size="8" text-anchor="middle" fill="#777" stroke="#777" stroke-width="0.16" font-weight="normal">†</text>
<text x="370.5" y="637.4" font-size="8" text-anchor="middle" fill="#777" stroke="#777" stroke-width="0.16" font-weight="normal">†</text>
<text x="394.2" y="689.4" font-size="8" text-anchor="middle" fill="#777" stroke="#777" stroke-width="0.16" font-weight="normal">†</text>
<text x="357" y="656.12" font-size="7" text-anchor="middle" fill="#777" stroke="#777" stroke-width="0.16" font-weight="normal">#</text>
<text x="380.2" y="687.01" font-size="7" text-anchor="middle" fill="#777" stroke="#777" stroke-width="0.16" font-weight="normal">#</text>
<line x1="387.4" y1="592.1" x2="407.6" y2="592.1" stroke="#e60012" stroke-width="1.5"/>
<polygon points="393.5,596.05 401.5,596.05 397.5,588.45" fill="#e60012"/>
<text x="414" y="595.02" font-size="8.1" text-anchor="start" fill="#2f2f2f" stroke="#2f2f2f" stroke-width="0.16" font-weight="normal">HL + tPA + IgG Ab</text>
<line x1="387.4" y1="604.6" x2="407.6" y2="604.6" stroke="#0f9a48" stroke-width="1.5"/>
<polygon points="393.5,608.55 401.5,608.55 397.5,600.95" fill="#0f9a48"/>
<text x="414" y="607.52" font-size="8.1" text-anchor="start" fill="#2f2f2f" stroke="#2f2f2f" stroke-width="0.16" font-weight="normal">HL + tPA + anti-VEGF-A Ab</text>
<line x1="387.4" y1="618.2" x2="407.6" y2="618.2" stroke="#f5a800" stroke-width="1.5"/>
<polygon points="393.5,622.15 401.5,622.15 397.5,614.55" fill="#f5a800"/>
<text x="414" y="621.12" font-size="8.1" text-anchor="start" fill="#2f2f2f" stroke="#2f2f2f" stroke-width="0.16" font-weight="normal">HL + tPA + anti-VEGFR-1 Ab</text>
<line x1="387.4" y1="632.1" x2="407.6" y2="632.1" stroke="#231815" stroke-width="1.5"/>
<circle cx="397.5" cy="632.1" r="3.6" fill="#231815"/>
<text x="414" y="635.02" font-size="8.1" text-anchor="start" fill="#2f2f2f" stroke="#2f2f2f" stroke-width="0.16" font-weight="normal">HL + BSA-PBS + IgG Ab</text>
<line x1="387.4" y1="645.7" x2="407.6" y2="645.7" stroke="#a3a3a3" stroke-width="1.5"/>
<circle cx="397.5" cy="645.7" r="3.6" fill="#a3a3a3"/>
<text x="414" y="648.62" font-size="8.1" text-anchor="start" fill="#2f2f2f" stroke="#2f2f2f" stroke-width="0.16" font-weight="normal">HL + BSA-PBS</text>
<text x="450.5" y="659.12" font-size="8.1" text-anchor="start" fill="#2f2f2f" stroke="#2f2f2f" stroke-width="0.16" font-weight="normal">+ anti-VEGF-A Ab</text>
<line x1="387.4" y1="666.1" x2="407.6" y2="666.1" stroke="#92278f" stroke-width="1.5"/>
<circle cx="397.5" cy="666.1" r="3.6" fill="#92278f"/>
<text x="414" y="669.02" font-size="8.1" text-anchor="start" fill="#2f2f2f" stroke="#2f2f2f" stroke-width="0.16" font-weight="normal">HL + BSA-PBS</text>
<text x="449.5" y="679.02" font-size="8.1" text-anchor="start" fill="#2f2f2f" stroke="#2f2f2f" stroke-width="0.16" font-weight="normal">+ anti-VEGFR-1 Ab</text>
<text x="40.2" y="792.6" font-size="16" text-anchor="start" fill="#000" stroke="#000" stroke-width="0.1" font-weight="bold">J</text>
<path d="M75.4 826.8V940.8H396.5" fill="none" stroke="#231815" stroke-width="1.3" stroke-linecap="square"/>
<line x1="75.4" y1="826.8" x2="78" y2="826.8" stroke="#231815" stroke-width="1.2"/>
<line x1="75.4" y1="855.1" x2="73.4" y2="855.1" stroke="#231815" stroke-width="1"/>
<line x1="75.4" y1="883.7" x2="73.4" y2="883.7" stroke="#231815" stroke-width="1"/>
<line x1="75.4" y1="912.2" x2="73.4" y2="912.2" stroke="#231815" stroke-width="1"/>
<line x1="131.5" y1="940.8" x2="131.5" y2="937.8" stroke="#231815" stroke-width="1"/>
<line x1="183.8" y1="940.8" x2="183.8" y2="937.8" stroke="#231815" stroke-width="1"/>
<line x1="236.3" y1="940.8" x2="236.3" y2="937.8" stroke="#231815" stroke-width="1"/>
<line x1="288" y1="940.8" x2="288" y2="937.8" stroke="#231815" stroke-width="1"/>
<line x1="339.8" y1="940.8" x2="339.8" y2="937.8" stroke="#231815" stroke-width="1"/>
<line x1="396.5" y1="940.8" x2="396.5" y2="937.8" stroke="#231815" stroke-width="1"/>
<text x="71.4" y="831.24" font-size="8" text-anchor="end" fill="#2f2f2f" stroke="#2f2f2f" stroke-width="0.16" font-weight="normal">400</text>
<text x="71.4" y="859.54" font-size="8" text-anchor="end" fill="#2f2f2f" stroke="#2f2f2f" stroke-width="0.16" font-weight="normal">300</text>
<text x="71.4" y="887.84" font-size="8" text-anchor="end" fill="#2f2f2f" stroke="#2f2f2f" stroke-width="0.16" font-weight="normal">200</text>
<text x="71.4" y="916.14" font-size="8" text-anchor="end" fill="#2f2f2f" stroke="#2f2f2f" stroke-width="0.16" font-weight="normal">100</text>
<text x="71.4" y="942.84" font-size="8" text-anchor="end" fill="#2f2f2f" stroke="#2f2f2f" stroke-width="0.16" font-weight="normal">0</text>
<text x="54.9" y="878.3" font-size="8.8" text-anchor="middle" fill="#2f2f2f" stroke="#2f2f2f" stroke-width="0.16" font-weight="normal" transform="rotate(-90 54.9 878.3)">Capillary density ( / mm<tspan font-size="5.8" dy="-3.3">2</tspan><tspan dy="3.3"> )</tspan></text>
<line x1="98.15" y1="848.5" x2="98.15" y2="850.2" stroke="#444" stroke-width="0.9"/>
<line x1="95.95" y1="848.5" x2="100.35" y2="848.5" stroke="#444" stroke-width="0.9"/>
<line x1="95.95" y1="850.2" x2="100.35" y2="850.2" stroke="#444" stroke-width="0.9"/>
<rect x="86.9" y="850.2" width="22.5" height="90.6" fill="#e60012" stroke="#b0000c" stroke-width="0.6"/>
<line x1="115.45" y1="885" x2="115.45" y2="886.2" stroke="#444" stroke-width="0.9"/>
<line x1="113.25" y1="885" x2="117.65" y2="885" stroke="#444" stroke-width="0.9"/>
<line x1="113.25" y1="886.2" x2="117.65" y2="886.2" stroke="#444" stroke-width="0.9"/>
<rect x="104.6" y="886.2" width="21.7" height="54.6" fill="#231815" stroke="#3a3a3a" stroke-width="0.6"/>
<line x1="149.8" y1="877.5" x2="149.8" y2="881.3" stroke="#444" stroke-width="0.9"/>
<line x1="147.6" y1="877.5" x2="152" y2="877.5" stroke="#444" stroke-width="0.9"/>
<line x1="147.6" y1="881.3" x2="152" y2="881.3" stroke="#444" stroke-width="0.9"/>
<rect x="138.8" y="881.3" width="22" height="59.5" fill="#e60012" stroke="#b0000c" stroke-width="0.6"/>
<line x1="167.45" y1="884.5" x2="167.45" y2="886.2" stroke="#444" stroke-width="0.9"/>
<line x1="165.25" y1="884.5" x2="169.65" y2="884.5" stroke="#444" stroke-width="0.9"/>
<line x1="165.25" y1="886.2" x2="169.65" y2="886.2" stroke="#444" stroke-width="0.9"/>
<rect x="156.5" y="886.2" width="21.9" height="54.6" fill="#231815" stroke="#3a3a3a" stroke-width="0.6"/>
<line x1="201.6" y1="885.8" x2="201.6" y2="889.2" stroke="#444" stroke-width="0.9"/>
<line x1="199.4" y1="885.8" x2="203.8" y2="885.8" stroke="#444" stroke-width="0.9"/>
<line x1="199.4" y1="889.2" x2="203.8" y2="889.2" stroke="#444" stroke-width="0.9"/>
<rect x="190.4" y="889.2" width="22.4" height="51.6" fill="#e60012" stroke="#b0000c" stroke-width="0.6"/>
<line x1="219" y1="891" x2="219" y2="893.2" stroke="#444" stroke-width="0.9"/>
<line x1="216.8" y1="891" x2="221.2" y2="891" stroke="#444" stroke-width="0.9"/>
<line x1="216.8" y1="893.2" x2="221.2" y2="893.2" stroke="#444" stroke-width="0.9"/>
<rect x="207.7" y="893.2" width="22.6" height="47.6" fill="#231815" stroke="#3a3a3a" stroke-width="0.6"/>
<line x1="253.55" y1="893.5" x2="253.55" y2="894.4" stroke="#444" stroke-width="0.9"/>
<line x1="251.35" y1="893.5" x2="255.75" y2="893.5" stroke="#444" stroke-width="0.9"/>
<line x1="251.35" y1="894.4" x2="255.75" y2="894.4" stroke="#444" stroke-width="0.9"/>
<rect x="242.2" y="894.4" width="22.7" height="46.4" fill="#e60012" stroke="#b0000c" stroke-width="0.6"/>
<line x1="270.8" y1="899.5" x2="270.8" y2="900.5" stroke="#444" stroke-width="0.9"/>
<line x1="268.6" y1="899.5" x2="273" y2="899.5" stroke="#444" stroke-width="0.9"/>
<line x1="268.6" y1="900.5" x2="273" y2="900.5" stroke="#444" stroke-width="0.9"/>
<rect x="259.7" y="900.5" width="22.2" height="40.3" fill="#231815" stroke="#3a3a3a" stroke-width="0.6"/>
<line x1="305.25" y1="887" x2="305.25" y2="889.6" stroke="#444" stroke-width="0.9"/>
<line x1="303.05" y1="887" x2="307.45" y2="887" stroke="#444" stroke-width="0.9"/>
<line x1="303.05" y1="889.6" x2="307.45" y2="889.6" stroke="#444" stroke-width="0.9"/>
<rect x="294" y="889.6" width="22.5" height="51.2" fill="#e60012" stroke="#b0000c" stroke-width="0.6"/>
<line x1="322.55" y1="889.6" x2="322.55" y2="893.4" stroke="#444" stroke-width="0.9"/>
<line x1="320.35" y1="889.6" x2="324.75" y2="889.6" stroke="#444" stroke-width="0.9"/>
<line x1="320.35" y1="893.4" x2="324.75" y2="893.4" stroke="#444" stroke-width="0.9"/>
<rect x="311.3" y="893.4" width="22.5" height="47.4" fill="#231815" stroke="#3a3a3a" stroke-width="0.6"/>
<line x1="356.9" y1="889.5" x2="356.9" y2="892" stroke="#444" stroke-width="0.9"/>
<line x1="354.7" y1="889.5" x2="359.1" y2="889.5" stroke="#444" stroke-width="0.9"/>
<line x1="354.7" y1="892" x2="359.1" y2="892" stroke="#444" stroke-width="0.9"/>
<rect x="345.6" y="892" width="22.6" height="48.8" fill="#e60012" stroke="#b0000c" stroke-width="0.6"/>
<line x1="374.7" y1="892.5" x2="374.7" y2="895.2" stroke="#444" stroke-width="0.9"/>
<line x1="372.5" y1="892.5" x2="376.9" y2="892.5" stroke="#444" stroke-width="0.9"/>
<line x1="372.5" y1="895.2" x2="376.9" y2="895.2" stroke="#444" stroke-width="0.9"/>
<rect x="363.5" y="895.2" width="22.4" height="45.6" fill="#231815" stroke="#3a3a3a" stroke-width="0.6"/>
<path d="M88.1 843.5V797.8H358.3V853.5" fill="none" stroke="#707070" stroke-width="0.9"/>
<path d="M92.7 843.5V809.5H305.3V853.5" fill="none" stroke="#707070" stroke-width="0.9"/>
<path d="M97.8 843.5V821H253.7V853.5" fill="none" stroke="#707070" stroke-width="0.9"/>
<path d="M102.6 843.5V832.6H201.8V853.5" fill="none" stroke="#707070" stroke-width="0.9"/>
<path d="M107.7 843.5V837.7H149.7V855" fill="none" stroke="#707070" stroke-width="0.9"/>
<path d="M149.4 876.3V866.9H256.5V889.8" fill="none" stroke="#707070" stroke-width="0.9"/>
<path d="M201.4 880.4V872.8H249V889.8" fill="none" stroke="#707070" stroke-width="0.9"/>
<text x="223.3" y="797.41" font-size="10.5" text-anchor="middle" fill="#6b6775" stroke="#6b6775" stroke-width="0.16" font-weight="normal">**</text>
<text x="199" y="809.61" font-size="10.5" text-anchor="middle" fill="#6b6775" stroke="#6b6775" stroke-width="0.16" font-weight="normal">**</text>
<text x="175.8" y="821.21" font-size="10.5" text-anchor="middle" fill="#6b6775" stroke="#6b6775" stroke-width="0.16" font-weight="normal">**</text>
<text x="152" y="832.71" font-size="10.5" text-anchor="middle" fill="#6b6775" stroke="#6b6775" stroke-width="0.16" font-weight="normal">**</text>
<text x="129" y="848.21" font-size="10.5" text-anchor="middle" fill="#6b6775" stroke="#6b6775" stroke-width="0.16" font-weight="normal">**</text>
<text x="203.2" y="866.41" font-size="10.5" text-anchor="middle" fill="#6b6775" stroke="#6b6775" stroke-width="0.16" font-weight="normal">*</text>
<text x="225.6" y="881.71" font-size="10.5" text-anchor="middle" fill="#6b6775" stroke="#6b6775" stroke-width="0.16" font-weight="normal">*</text>
<text x="97.7" y="951.68" font-size="8" text-anchor="start" fill="#2f2f2f" stroke="#2f2f2f" stroke-width="0.16" font-weight="normal">+ IgG</text>
<text x="142" y="951.88" font-size="8" text-anchor="start" fill="#2f2f2f" stroke="#2f2f2f" stroke-width="0.16" font-weight="normal">+ anti</text>
<text x="147.7" y="962.68" font-size="8" text-anchor="start" fill="#2f2f2f" stroke="#2f2f2f" stroke-width="0.16" font-weight="normal">-CD11b</text>
<text x="189.2" y="951.88" font-size="8" text-anchor="start" fill="#2f2f2f" stroke="#2f2f2f" stroke-width="0.16" font-weight="normal">+ anti</text>
<text x="195.7" y="962.68" font-size="8" text-anchor="start" fill="#2f2f2f" stroke="#2f2f2f" stroke-width="0.16" font-weight="normal">-VEGFR-1</text>
<text x="238.7" y="951.88" font-size="8" text-anchor="start" fill="#2f2f2f" stroke="#2f2f2f" stroke-width="0.16" font-weight="normal">+ anti-CD11b</text>
<text x="247.3" y="962.18" font-size="8" text-anchor="start" fill="#2f2f2f" stroke="#2f2f2f" stroke-width="0.16" font-weight="normal">+VEGFR-1</text>
<text x="292" y="951.88" font-size="8" text-anchor="start" fill="#2f2f2f" stroke="#2f2f2f" stroke-width="0.16" font-weight="normal">+ anti</text>
<text x="299.2" y="962.68" font-size="8" text-anchor="start" fill="#2f2f2f" stroke="#2f2f2f" stroke-width="0.16" font-weight="normal">-VEGFR-2</text>
<text x="344.6" y="951.88" font-size="8" text-anchor="start" fill="#2f2f2f" stroke="#2f2f2f" stroke-width="0.16" font-weight="normal">+ anti-CD11b</text>
<text x="350.8" y="962.18" font-size="8" text-anchor="start" fill="#2f2f2f" stroke="#2f2f2f" stroke-width="0.16" font-weight="normal">+VEGFR-2</text>
<rect x="404.2" y="850" width="7" height="7" fill="#e60012" stroke="none" stroke-width="0.8"/>
<text x="420.6" y="857.21" font-size="10.3" text-anchor="start" fill="#2f2f2f" stroke="#2f2f2f" stroke-width="0.16" font-weight="normal">HL + tPA</text>
<rect x="404.2" y="864.6" width="7" height="7" fill="#231815" stroke="none" stroke-width="0.8"/>
<text x="420.6" y="871.81" font-size="10.3" text-anchor="start" fill="#2f2f2f" stroke="#2f2f2f" stroke-width="0.16" font-weight="normal">HL + BSA-PBS</text>
</svg>
</body></html>
